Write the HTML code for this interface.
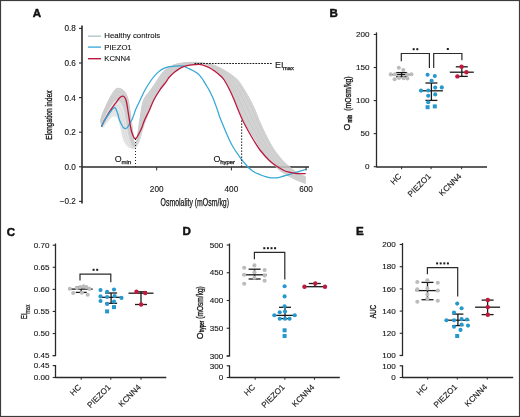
<!DOCTYPE html>
<html><head><meta charset="utf-8"><title>figure</title>
<style>html,body{margin:0;padding:0;background:#fff;width:520px;height:417px;overflow:hidden}</style>
</head><body>
<svg width="520" height="417" viewBox="0 0 520 417" style="display:block;filter:blur(0.3px)" font-family='"Liberation Sans", sans-serif'>
<rect x="0" y="0" width="520" height="417" fill="#ffffff"/>
<text x="32.80" y="17.30" font-size="11.60" text-anchor="start" font-weight="bold" fill="#111" stroke="#111" stroke-width="0.45">A</text>
<text x="329.40" y="17.30" font-size="11.60" text-anchor="start" font-weight="bold" fill="#111" stroke="#111" stroke-width="0.45">B</text>
<text x="6.80" y="235.60" font-size="11.60" text-anchor="start" font-weight="bold" fill="#111" stroke="#111" stroke-width="0.45">C</text>
<text x="182.60" y="235.10" font-size="11.60" text-anchor="start" font-weight="bold" fill="#111" stroke="#111" stroke-width="0.45">D</text>
<text x="356.00" y="234.50" font-size="11.60" text-anchor="start" font-weight="bold" fill="#111" stroke="#111" stroke-width="0.45">E</text>
<line x1="82.00" y1="167.00" x2="309.00" y2="167.00" stroke="#2a2a2a" stroke-width="1.50" />
<g opacity="0.85">
<path d="M100.40,121.00 C100.54,120.50 100.95,118.99 101.22,117.99 C101.49,116.98 101.71,115.96 102.04,114.97 C102.36,113.99 102.78,113.03 103.19,112.08 C103.59,111.12 104.06,110.18 104.49,109.24 C104.93,108.29 105.36,107.35 105.79,106.40 C106.23,105.45 106.66,104.50 107.09,103.56 C107.52,102.61 107.93,101.65 108.38,100.71 C108.84,99.78 109.34,98.87 109.84,97.95 C110.34,97.04 110.84,96.13 111.37,95.23 C111.90,94.33 112.42,93.44 113.00,92.57 C113.58,91.70 114.09,90.75 114.83,90.04 C115.56,89.33 116.26,88.43 117.40,88.30 C118.54,88.17 120.39,88.60 121.64,89.24 C122.89,89.88 124.00,91.02 124.89,92.15 C125.78,93.29 126.42,94.69 126.98,96.04 C127.55,97.39 127.90,98.84 128.25,100.27 C128.61,101.69 128.87,103.15 129.12,104.60 C129.37,106.06 129.54,107.52 129.75,108.98 C129.95,110.44 130.15,111.90 130.35,113.37 C130.55,114.83 130.74,116.29 130.93,117.75 C131.13,119.21 131.33,120.67 131.52,122.13 C131.70,123.60 131.87,125.06 132.05,126.53 C132.23,127.99 132.41,129.45 132.59,130.92 C132.77,132.38 132.95,133.84 133.14,135.31 C133.33,136.77 133.49,138.23 133.74,139.69 C133.98,141.14 134.19,143.40 134.61,144.02 C135.03,144.65 135.81,144.40 136.24,143.43 C136.68,142.47 136.94,139.97 137.23,138.23 C137.52,136.49 137.74,134.74 137.98,132.99 C138.21,131.25 138.40,129.49 138.64,127.74 C138.88,125.99 139.16,124.25 139.42,122.51 C139.69,120.76 139.95,119.02 140.21,117.27 C140.47,115.53 140.71,113.78 140.99,112.04 C141.28,110.29 141.56,108.55 141.91,106.82 C142.25,105.09 142.50,103.31 143.06,101.66 C143.61,100.01 144.30,98.38 145.22,96.90 C146.13,95.42 147.45,94.18 148.53,92.79 C149.62,91.41 150.71,90.03 151.74,88.60 C152.76,87.16 153.71,85.67 154.67,84.19 C155.64,82.71 156.56,81.21 157.53,79.73 C158.50,78.26 159.46,76.78 160.51,75.37 C161.56,73.95 162.58,72.47 163.82,71.23 C165.05,69.99 166.46,68.90 167.92,67.93 C169.38,66.97 170.96,66.15 172.57,65.45 C174.18,64.76 175.87,64.17 177.58,63.76 C179.28,63.35 181.05,63.20 182.80,62.98 C184.55,62.76 186.30,62.55 188.06,62.44 C189.82,62.32 191.55,62.26 193.35,62.27 C195.16,62.28 197.03,62.24 198.88,62.49 C200.73,62.74 202.67,63.15 204.46,63.79 C206.26,64.42 208.03,65.30 209.66,66.30 C211.29,67.29 212.80,68.49 214.25,69.75 C215.70,71.01 216.98,72.48 218.34,73.84 C219.71,75.21 221.14,76.52 222.44,77.94 C223.73,79.35 225.01,80.79 226.13,82.35 C227.25,83.91 228.18,85.62 229.14,87.29 C230.11,88.96 231.03,90.65 231.89,92.37 C232.75,94.10 233.53,95.87 234.31,97.63 C235.09,99.40 235.84,101.17 236.58,102.95 C237.32,104.74 238.00,106.54 238.73,108.33 C239.46,110.11 240.22,111.89 240.98,113.66 C241.73,115.44 242.44,117.24 243.26,118.98 C244.08,120.73 245.00,122.42 245.89,124.14 C246.78,125.85 247.64,127.58 248.60,129.25 C249.57,130.92 250.65,132.52 251.69,134.14 C252.73,135.77 253.82,137.36 254.85,139.00 C255.88,140.63 256.86,142.29 257.86,143.94 C258.86,145.59 259.81,147.27 260.84,148.90 C261.87,150.53 262.96,152.13 264.07,153.71 C265.17,155.28 266.28,156.88 267.49,158.37 C268.71,159.86 270.02,161.27 271.36,162.64 C272.71,164.01 274.16,165.29 275.59,166.59 C277.02,167.88 278.41,169.22 279.93,170.40 C281.45,171.57 283.07,172.63 284.70,173.66 C286.33,174.69 288.01,175.64 289.70,176.57 C291.40,177.49 293.10,178.40 294.85,179.21 C296.60,180.02 298.41,180.70 300.20,181.42 C301.99,182.13 304.70,183.15 305.60,183.50 L305.60,176.50 C304.76,176.15 302.17,175.23 300.54,174.43 C298.91,173.63 297.34,172.71 295.82,171.70 C294.31,170.70 292.88,169.56 291.46,168.42 C290.04,167.28 288.66,166.09 287.29,164.88 C285.93,163.68 284.54,162.48 283.27,161.18 C282.01,159.87 280.86,158.46 279.70,157.05 C278.55,155.65 277.42,154.21 276.34,152.74 C275.26,151.28 274.19,149.81 273.21,148.27 C272.24,146.73 271.40,145.11 270.51,143.52 C269.62,141.93 268.71,140.35 267.87,138.73 C267.02,137.12 266.23,135.48 265.42,133.84 C264.61,132.21 263.79,130.58 263.02,128.93 C262.24,127.28 261.51,125.61 260.77,123.94 C260.04,122.28 259.28,120.62 258.58,118.94 C257.89,117.25 257.25,115.54 256.59,113.84 C255.93,112.15 255.33,110.42 254.60,108.75 C253.86,107.08 252.99,105.48 252.17,103.85 C251.36,102.22 250.59,100.56 249.73,98.96 C248.87,97.35 247.93,95.79 247.02,94.21 C246.11,92.63 245.23,91.03 244.28,89.48 C243.33,87.92 242.34,86.38 241.32,84.88 C240.30,83.37 239.38,81.78 238.17,80.45 C236.95,79.11 235.46,78.00 234.05,76.85 C232.64,75.70 231.20,74.58 229.71,73.55 C228.21,72.52 226.65,71.57 225.07,70.65 C223.50,69.73 221.89,68.86 220.27,68.03 C218.65,67.21 217.02,66.35 215.34,65.68 C213.66,65.02 211.94,64.41 210.18,64.07 C208.41,63.72 206.54,63.66 204.73,63.62 C202.91,63.59 201.11,63.69 199.30,63.85 C197.49,64.02 195.68,64.37 193.87,64.61 C192.07,64.86 190.25,65.02 188.45,65.31 C186.65,65.61 184.81,65.86 183.07,66.39 C181.33,66.92 179.62,67.64 178.02,68.49 C176.41,69.35 174.85,70.36 173.44,71.51 C172.04,72.66 170.77,74.00 169.59,75.38 C168.40,76.76 167.36,78.28 166.35,79.79 C165.33,81.30 164.42,82.90 163.48,84.46 C162.54,86.02 161.64,87.62 160.69,89.18 C159.75,90.74 158.78,92.29 157.79,93.82 C156.80,95.35 155.71,96.83 154.75,98.38 C153.79,99.93 152.84,101.49 152.04,103.12 C151.23,104.75 150.57,106.46 149.91,108.16 C149.24,109.86 148.64,111.59 148.06,113.32 C147.48,115.05 146.98,116.81 146.42,118.55 C145.87,120.29 145.30,122.03 144.74,123.77 C144.19,125.50 143.61,127.24 143.08,128.98 C142.55,130.73 142.07,132.50 141.57,134.25 C141.07,136.01 140.64,137.79 140.07,139.52 C139.49,141.25 139.00,143.12 138.11,144.63 C137.22,146.13 135.97,147.95 134.73,148.57 C133.49,149.18 131.79,148.55 130.70,148.32 C129.61,148.09 128.94,147.71 128.19,147.19 C127.45,146.68 126.84,145.92 126.23,145.23 C125.61,144.53 125.03,143.81 124.53,143.04 C124.03,142.27 123.58,141.46 123.23,140.61 C122.87,139.77 122.66,138.85 122.40,137.96 C122.14,137.07 121.87,136.18 121.67,135.28 C121.46,134.38 121.33,133.46 121.16,132.55 C120.99,131.64 120.84,130.72 120.65,129.81 C120.46,128.91 120.24,128.01 120.03,127.11 C119.81,126.20 119.59,125.30 119.35,124.41 C119.11,123.51 118.86,122.62 118.58,121.74 C118.30,120.86 118.11,119.92 117.70,119.10 C117.29,118.29 116.81,117.30 116.11,116.87 C115.41,116.43 114.13,116.44 113.50,116.50 C112.87,116.56 112.72,116.97 112.33,117.20 C111.94,117.44 111.51,117.62 111.16,117.90 C110.81,118.19 110.54,118.56 110.23,118.89 C109.93,119.23 109.64,119.58 109.35,119.93 C109.05,120.27 108.75,120.61 108.46,120.96 C108.17,121.31 107.88,121.67 107.61,122.03 C107.33,122.39 107.06,122.75 106.79,123.12 C106.51,123.48 106.24,123.85 105.97,124.21 C105.70,124.57 105.43,124.94 105.15,125.30 C104.87,125.66 104.59,126.01 104.30,126.37 C104.02,126.73 103.74,127.08 103.45,127.43 C103.17,127.79 102.74,128.32 102.60,128.50 Z" fill="#e2e2e2" stroke="none"/>
<path d="M100.40,121.00 C100.54,120.50 100.95,118.99 101.22,117.99 C101.49,116.98 101.71,115.96 102.04,114.97 C102.36,113.99 102.78,113.03 103.19,112.08 C103.59,111.12 104.06,110.18 104.49,109.24 C104.93,108.29 105.36,107.35 105.79,106.40 C106.23,105.45 106.66,104.50 107.09,103.56 C107.52,102.61 107.93,101.65 108.38,100.71 C108.84,99.78 109.34,98.87 109.84,97.95 C110.34,97.04 110.84,96.13 111.37,95.23 C111.90,94.33 112.42,93.44 113.00,92.57 C113.58,91.70 114.09,90.75 114.83,90.04 C115.56,89.33 116.26,88.43 117.40,88.30 C118.54,88.17 120.39,88.60 121.64,89.24 C122.89,89.88 124.00,91.02 124.89,92.15 C125.78,93.29 126.42,94.69 126.98,96.04 C127.55,97.39 127.90,98.84 128.25,100.27 C128.61,101.69 128.87,103.15 129.12,104.60 C129.37,106.06 129.54,107.52 129.75,108.98 C129.95,110.44 130.15,111.90 130.35,113.37 C130.55,114.83 130.74,116.29 130.93,117.75 C131.13,119.21 131.33,120.67 131.52,122.13 C131.70,123.60 131.87,125.06 132.05,126.53 C132.23,127.99 132.41,129.45 132.59,130.92 C132.77,132.38 132.95,133.84 133.14,135.31 C133.33,136.77 133.49,138.23 133.74,139.69 C133.98,141.14 134.19,143.40 134.61,144.02 C135.03,144.65 135.81,144.40 136.24,143.43 C136.68,142.47 136.94,139.97 137.23,138.23 C137.52,136.49 137.74,134.74 137.98,132.99 C138.21,131.25 138.40,129.49 138.64,127.74 C138.88,125.99 139.16,124.25 139.42,122.51 C139.69,120.76 139.95,119.02 140.21,117.27 C140.47,115.53 140.71,113.78 140.99,112.04 C141.28,110.29 141.56,108.55 141.91,106.82 C142.25,105.09 142.50,103.31 143.06,101.66 C143.61,100.01 144.30,98.38 145.22,96.90 C146.13,95.42 147.45,94.18 148.53,92.79 C149.62,91.41 150.71,90.03 151.74,88.60 C152.76,87.16 153.71,85.67 154.67,84.19 C155.64,82.71 156.56,81.21 157.53,79.73 C158.50,78.26 159.46,76.78 160.51,75.37 C161.56,73.95 162.58,72.47 163.82,71.23 C165.05,69.99 166.46,68.90 167.92,67.93 C169.38,66.97 170.96,66.15 172.57,65.45 C174.18,64.76 175.87,64.17 177.58,63.76 C179.28,63.35 181.05,63.20 182.80,62.98 C184.55,62.76 186.30,62.55 188.06,62.44 C189.82,62.32 191.55,62.26 193.35,62.27 C195.16,62.28 197.03,62.24 198.88,62.49 C200.73,62.74 202.67,63.15 204.46,63.79 C206.26,64.42 208.03,65.30 209.66,66.30 C211.29,67.29 212.80,68.49 214.25,69.75 C215.70,71.01 216.98,72.48 218.34,73.84 C219.71,75.21 221.14,76.52 222.44,77.94 C223.73,79.35 225.01,80.79 226.13,82.35 C227.25,83.91 228.18,85.62 229.14,87.29 C230.11,88.96 231.03,90.65 231.89,92.37 C232.75,94.10 233.53,95.87 234.31,97.63 C235.09,99.40 235.84,101.17 236.58,102.95 C237.32,104.74 238.00,106.54 238.73,108.33 C239.46,110.11 240.22,111.89 240.98,113.66 C241.73,115.44 242.44,117.24 243.26,118.98 C244.08,120.73 245.00,122.42 245.89,124.14 C246.78,125.85 247.64,127.58 248.60,129.25 C249.57,130.92 250.65,132.52 251.69,134.14 C252.73,135.77 253.82,137.36 254.85,139.00 C255.88,140.63 256.86,142.29 257.86,143.94 C258.86,145.59 259.81,147.27 260.84,148.90 C261.87,150.53 262.96,152.13 264.07,153.71 C265.17,155.28 266.28,156.88 267.49,158.37 C268.71,159.86 270.02,161.27 271.36,162.64 C272.71,164.01 274.16,165.29 275.59,166.59 C277.02,167.88 278.41,169.22 279.93,170.40 C281.45,171.57 283.07,172.63 284.70,173.66 C286.33,174.69 288.01,175.64 289.70,176.57 C291.40,177.49 293.10,178.40 294.85,179.21 C296.60,180.02 298.41,180.70 300.20,181.42 C301.99,182.13 304.70,183.15 305.60,183.50 L305.60,176.50 C304.76,176.15 302.17,175.23 300.54,174.43 C298.91,173.63 297.34,172.71 295.82,171.70 C294.31,170.70 292.88,169.56 291.46,168.42 C290.04,167.28 288.66,166.09 287.29,164.88 C285.93,163.68 284.54,162.48 283.27,161.18 C282.01,159.87 280.86,158.46 279.70,157.05 C278.55,155.65 277.42,154.21 276.34,152.74 C275.26,151.28 274.19,149.81 273.21,148.27 C272.24,146.73 271.40,145.11 270.51,143.52 C269.62,141.93 268.71,140.35 267.87,138.73 C267.02,137.12 266.23,135.48 265.42,133.84 C264.61,132.21 263.79,130.58 263.02,128.93 C262.24,127.28 261.51,125.61 260.77,123.94 C260.04,122.28 259.28,120.62 258.58,118.94 C257.89,117.25 257.25,115.54 256.59,113.84 C255.93,112.15 255.33,110.42 254.60,108.75 C253.86,107.08 252.99,105.48 252.17,103.85 C251.36,102.22 250.59,100.56 249.73,98.96 C248.87,97.35 247.93,95.79 247.02,94.21 C246.11,92.63 245.23,91.03 244.28,89.48 C243.33,87.92 242.34,86.38 241.32,84.88 C240.30,83.37 239.38,81.78 238.17,80.45 C236.95,79.11 235.46,78.00 234.05,76.85 C232.64,75.70 231.20,74.58 229.71,73.55 C228.21,72.52 226.65,71.57 225.07,70.65 C223.50,69.73 221.89,68.86 220.27,68.03 C218.65,67.21 217.02,66.35 215.34,65.68 C213.66,65.02 211.94,64.41 210.18,64.07 C208.41,63.72 206.54,63.66 204.73,63.62 C202.91,63.59 201.11,63.69 199.30,63.85 C197.49,64.02 195.68,64.37 193.87,64.61 C192.07,64.86 190.25,65.02 188.45,65.31 C186.65,65.61 184.81,65.86 183.07,66.39 C181.33,66.92 179.62,67.64 178.02,68.49 C176.41,69.35 174.85,70.36 173.44,71.51 C172.04,72.66 170.77,74.00 169.59,75.38 C168.40,76.76 167.36,78.28 166.35,79.79 C165.33,81.30 164.42,82.90 163.48,84.46 C162.54,86.02 161.64,87.62 160.69,89.18 C159.75,90.74 158.78,92.29 157.79,93.82 C156.80,95.35 155.71,96.83 154.75,98.38 C153.79,99.93 152.84,101.49 152.04,103.12 C151.23,104.75 150.57,106.46 149.91,108.16 C149.24,109.86 148.66,111.61 148.06,113.32 C147.47,115.04 146.93,116.77 146.33,118.44 C145.74,120.12 145.09,121.75 144.47,123.37 C143.85,125.00 143.20,126.58 142.62,128.17 C142.04,129.76 141.50,131.35 140.97,132.92 C140.45,134.50 139.99,136.08 139.46,137.63 C138.93,139.18 138.45,140.79 137.78,142.22 C137.11,143.66 136.26,145.59 135.42,146.23 C134.58,146.88 133.41,146.63 132.73,146.08 C132.05,145.54 131.73,144.06 131.32,142.96 C130.90,141.86 130.59,140.63 130.23,139.47 C129.88,138.31 129.52,137.18 129.20,136.01 C128.89,134.84 128.60,133.65 128.35,132.44 C128.09,131.24 127.91,130.00 127.69,128.78 C127.47,127.56 127.24,126.34 127.04,125.11 C126.84,123.89 126.67,122.65 126.49,121.42 C126.30,120.19 126.13,118.96 125.93,117.73 C125.73,116.50 125.54,115.28 125.30,114.06 C125.07,112.83 124.82,111.61 124.51,110.41 C124.21,109.20 123.90,107.99 123.45,106.83 C123.01,105.68 122.56,104.47 121.87,103.47 C121.18,102.47 120.34,101.40 119.32,100.84 C118.30,100.29 116.69,100.04 115.76,100.14 C114.84,100.24 114.37,100.94 113.78,101.45 C113.19,101.96 112.71,102.59 112.23,103.21 C111.75,103.83 111.33,104.51 110.89,105.17 C110.46,105.83 110.05,106.51 109.63,107.18 C109.22,107.86 108.80,108.53 108.42,109.22 C108.03,109.91 107.67,110.61 107.31,111.31 C106.94,112.01 106.58,112.72 106.21,113.42 C105.84,114.12 105.48,114.82 105.11,115.53 C104.75,116.23 104.36,116.92 104.01,117.63 C103.66,118.34 103.30,119.04 102.99,119.76 C102.68,120.48 102.43,121.22 102.16,121.95 C101.88,122.69 101.46,123.78 101.32,124.15 Z" fill="#cfcfcf" stroke="none"/>
<path d="M100.40,121.00 C100.54,120.50 100.95,118.99 101.22,117.99 C101.49,116.98 101.71,115.96 102.04,114.97 C102.36,113.99 102.78,113.03 103.19,112.08 C103.59,111.12 104.06,110.18 104.49,109.24 C104.93,108.29 105.36,107.35 105.79,106.40 C106.23,105.45 106.66,104.50 107.09,103.56 C107.52,102.61 107.93,101.65 108.38,100.71 C108.84,99.78 109.34,98.87 109.84,97.95 C110.34,97.04 110.84,96.13 111.37,95.23 C111.90,94.33 112.42,93.44 113.00,92.57 C113.58,91.70 114.09,90.75 114.83,90.04 C115.56,89.33 116.26,88.43 117.40,88.30 C118.54,88.17 120.39,88.60 121.64,89.24 C122.89,89.88 124.00,91.02 124.89,92.15 C125.78,93.29 126.42,94.69 126.98,96.04 C127.55,97.39 127.90,98.84 128.25,100.27 C128.61,101.69 128.87,103.15 129.12,104.60 C129.37,106.06 129.54,107.52 129.75,108.98 C129.95,110.44 130.15,111.90 130.35,113.37 C130.55,114.83 130.74,116.29 130.93,117.75 C131.13,119.21 131.33,120.67 131.52,122.13 C131.70,123.60 131.87,125.06 132.05,126.53 C132.23,127.99 132.41,129.45 132.59,130.92 C132.77,132.38 132.95,133.84 133.14,135.31 C133.33,136.77 133.49,138.23 133.74,139.69 C133.98,141.14 134.19,143.40 134.61,144.02 C135.03,144.65 135.81,144.40 136.24,143.43 C136.68,142.47 136.94,139.97 137.23,138.23 C137.52,136.49 137.74,134.74 137.98,132.99 C138.21,131.25 138.40,129.49 138.64,127.74 C138.88,125.99 139.16,124.25 139.42,122.51 C139.69,120.76 139.95,119.02 140.21,117.27 C140.47,115.53 140.71,113.78 140.99,112.04 C141.28,110.29 141.56,108.55 141.91,106.82 C142.25,105.09 142.50,103.31 143.06,101.66 C143.61,100.01 144.30,98.38 145.22,96.90 C146.13,95.42 147.45,94.18 148.53,92.79 C149.62,91.41 150.71,90.03 151.74,88.60 C152.76,87.16 153.71,85.67 154.67,84.19 C155.64,82.71 156.56,81.21 157.53,79.73 C158.50,78.26 159.46,76.78 160.51,75.37 C161.56,73.95 162.58,72.47 163.82,71.23 C165.05,69.99 166.46,68.90 167.92,67.93 C169.38,66.97 170.96,66.15 172.57,65.45 C174.18,64.76 175.87,64.17 177.58,63.76 C179.28,63.35 181.05,63.20 182.80,62.98 C184.55,62.76 186.30,62.55 188.06,62.44 C189.82,62.32 191.55,62.26 193.35,62.27 C195.16,62.28 197.03,62.24 198.88,62.49 C200.73,62.74 202.67,63.15 204.46,63.79 C206.26,64.42 208.03,65.30 209.66,66.30 C211.29,67.29 212.80,68.49 214.25,69.75 C215.70,71.01 216.98,72.48 218.34,73.84 C219.71,75.21 221.14,76.52 222.44,77.94 C223.73,79.35 225.01,80.79 226.13,82.35 C227.25,83.91 228.18,85.62 229.14,87.29 C230.11,88.96 231.03,90.65 231.89,92.37 C232.75,94.10 233.53,95.87 234.31,97.63 C235.09,99.40 235.84,101.17 236.58,102.95 C237.32,104.74 238.00,106.54 238.73,108.33 C239.46,110.11 240.22,111.89 240.98,113.66 C241.73,115.44 242.44,117.24 243.26,118.98 C244.08,120.73 245.00,122.42 245.89,124.14 C246.78,125.85 247.64,127.58 248.60,129.25 C249.57,130.92 250.65,132.52 251.69,134.14 C252.73,135.77 253.82,137.36 254.85,139.00 C255.88,140.63 256.86,142.29 257.86,143.94 C258.86,145.59 259.81,147.27 260.84,148.90 C261.87,150.53 262.96,152.13 264.07,153.71 C265.17,155.28 266.28,156.88 267.49,158.37 C268.71,159.86 270.02,161.27 271.36,162.64 C272.71,164.01 274.16,165.29 275.59,166.59 C277.02,167.88 278.41,169.22 279.93,170.40 C281.45,171.57 283.07,172.63 284.70,173.66 C286.33,174.69 288.01,175.64 289.70,176.57 C291.40,177.49 293.10,178.40 294.85,179.21 C296.60,180.02 298.41,180.70 300.20,181.42 C301.99,182.13 304.70,183.15 305.60,183.50" fill="none" stroke="#c0c0c0" stroke-width="1.0"/>
<path d="M100.53,121.45 C100.67,120.97 101.08,119.52 101.35,118.55 C101.63,117.59 101.85,116.60 102.17,115.65 C102.50,114.71 102.90,113.79 103.30,112.87 C103.70,111.95 104.16,111.05 104.58,110.14 C105.01,109.23 105.43,108.31 105.85,107.40 C106.28,106.49 106.70,105.58 107.12,104.66 C107.54,103.75 107.94,102.83 108.39,101.93 C108.84,101.03 109.32,100.15 109.81,99.27 C110.30,98.39 110.79,97.51 111.30,96.65 C111.82,95.79 112.33,94.92 112.89,94.09 C113.45,93.26 113.97,92.35 114.68,91.67 C115.39,90.98 116.06,90.12 117.17,89.99 C118.27,89.86 120.10,90.27 121.31,90.90 C122.53,91.53 123.59,92.66 124.46,93.77 C125.32,94.88 125.94,96.26 126.48,97.58 C127.02,98.90 127.37,100.32 127.72,101.72 C128.07,103.11 128.33,104.54 128.58,105.95 C128.82,107.37 129.00,108.81 129.20,110.23 C129.41,111.66 129.60,113.09 129.80,114.52 C129.99,115.94 130.18,117.37 130.38,118.80 C130.57,120.23 130.78,121.66 130.97,123.08 C131.16,124.51 131.33,125.94 131.52,127.37 C131.71,128.80 131.91,130.22 132.11,131.64 C132.31,133.07 132.51,134.48 132.72,135.90 C132.94,137.32 133.12,138.75 133.39,140.15 C133.66,141.56 133.89,143.70 134.34,144.32 C134.80,144.93 135.63,144.75 136.12,143.83 C136.62,142.91 136.96,140.50 137.31,138.80 C137.65,137.11 137.91,135.38 138.19,133.66 C138.47,131.94 138.69,130.21 138.97,128.48 C139.25,126.76 139.57,125.04 139.88,123.32 C140.19,121.59 140.51,119.87 140.82,118.14 C141.13,116.42 141.43,114.68 141.76,112.95 C142.09,111.22 142.41,109.48 142.79,107.75 C143.17,106.02 143.47,104.25 144.03,102.59 C144.60,100.93 145.29,99.29 146.19,97.79 C147.09,96.29 148.35,95.00 149.42,93.59 C150.49,92.18 151.58,90.79 152.60,89.34 C153.62,87.89 154.57,86.39 155.53,84.90 C156.50,83.41 157.41,81.89 158.38,80.41 C159.35,78.93 160.30,77.43 161.34,76.00 C162.39,74.57 163.41,73.08 164.64,71.82 C165.87,70.57 167.26,69.43 168.71,68.44 C170.16,67.45 171.74,66.61 173.35,65.89 C174.96,65.17 176.65,64.56 178.36,64.13 C180.07,63.70 181.85,63.55 183.60,63.32 C185.36,63.08 187.13,62.88 188.89,62.75 C190.66,62.61 192.40,62.51 194.20,62.50 C196.01,62.48 197.87,62.43 199.72,62.65 C201.56,62.87 203.49,63.23 205.28,63.83 C207.07,64.42 208.83,65.26 210.47,66.21 C212.11,67.15 213.64,68.31 215.11,69.51 C216.58,70.70 217.91,72.09 219.31,73.39 C220.70,74.69 222.15,75.95 223.48,77.31 C224.80,78.67 226.10,80.06 227.26,81.56 C228.42,83.06 229.44,84.69 230.43,86.31 C231.43,87.93 232.36,89.61 233.24,91.30 C234.12,92.99 234.93,94.73 235.73,96.47 C236.54,98.20 237.31,99.95 238.07,101.71 C238.83,103.46 239.55,105.23 240.30,106.99 C241.05,108.75 241.81,110.51 242.58,112.26 C243.34,114.02 244.07,115.79 244.88,117.52 C245.69,119.25 246.56,120.96 247.42,122.67 C248.28,124.38 249.10,126.11 250.03,127.78 C250.96,129.45 251.99,131.06 252.99,132.69 C253.99,134.32 255.02,135.92 256.01,137.56 C257.01,139.19 257.97,140.85 258.94,142.50 C259.91,144.14 260.84,145.82 261.84,147.45 C262.85,149.07 263.91,150.67 264.99,152.25 C266.06,153.83 267.13,155.43 268.31,156.92 C269.49,158.42 270.76,159.84 272.08,161.22 C273.39,162.61 274.79,163.92 276.18,165.23 C277.56,166.54 278.92,167.88 280.41,169.08 C281.89,170.28 283.48,171.35 285.07,172.41 C286.66,173.46 288.30,174.45 289.95,175.40 C291.61,176.36 293.28,177.30 294.99,178.14 C296.71,178.97 298.48,179.69 300.25,180.42 C302.02,181.15 304.71,182.15 305.60,182.50" fill="none" stroke="#c9c9c9" stroke-width="1.0"/>
<path d="M100.66,121.90 C100.80,121.44 101.21,120.05 101.49,119.12 C101.76,118.19 101.99,117.25 102.31,116.34 C102.63,115.43 103.03,114.55 103.42,113.66 C103.81,112.78 104.25,111.91 104.67,111.04 C105.08,110.16 105.50,109.28 105.91,108.41 C106.33,107.53 106.74,106.65 107.15,105.77 C107.56,104.90 107.95,104.01 108.39,103.14 C108.83,102.28 109.31,101.44 109.78,100.59 C110.25,99.74 110.73,98.90 111.23,98.07 C111.73,97.24 112.23,96.41 112.78,95.61 C113.33,94.81 113.84,93.95 114.53,93.30 C115.22,92.64 115.86,91.81 116.93,91.68 C118.01,91.56 119.80,91.94 120.98,92.55 C122.16,93.17 123.19,94.29 124.03,95.39 C124.86,96.48 125.45,97.83 125.98,99.12 C126.50,100.42 126.84,101.80 127.19,103.16 C127.53,104.53 127.78,105.92 128.03,107.30 C128.27,108.69 128.45,110.09 128.66,111.48 C128.86,112.88 129.05,114.27 129.25,115.67 C129.44,117.06 129.63,118.46 129.82,119.85 C130.02,121.25 130.23,122.64 130.42,124.03 C130.62,125.43 130.79,126.83 130.99,128.22 C131.19,129.61 131.40,130.99 131.62,132.37 C131.84,133.75 132.07,135.12 132.31,136.50 C132.55,137.87 132.75,139.27 133.05,140.62 C133.34,141.97 133.58,144.01 134.07,144.61 C134.57,145.21 135.45,145.10 136.01,144.23 C136.56,143.36 136.99,141.03 137.39,139.37 C137.78,137.72 138.08,136.01 138.40,134.32 C138.72,132.63 138.98,130.92 139.31,129.22 C139.63,127.52 139.98,125.83 140.34,124.12 C140.69,122.42 141.06,120.72 141.43,119.01 C141.79,117.30 142.15,115.59 142.52,113.87 C142.89,112.14 143.25,110.40 143.67,108.68 C144.08,106.95 144.43,105.18 145.01,103.52 C145.60,101.85 146.28,100.20 147.17,98.68 C148.05,97.16 149.26,95.82 150.31,94.39 C151.36,92.96 152.45,91.55 153.46,90.09 C154.48,88.63 155.43,87.12 156.39,85.62 C157.35,84.12 158.27,82.58 159.23,81.08 C160.19,79.59 161.14,78.07 162.18,76.63 C163.21,75.19 164.24,73.70 165.46,72.42 C166.68,71.14 168.05,69.97 169.50,68.95 C170.94,67.94 172.52,67.06 174.13,66.32 C175.74,65.58 177.43,64.95 179.15,64.51 C180.86,64.06 182.65,63.89 184.41,63.65 C186.17,63.41 187.95,63.21 189.72,63.06 C191.50,62.90 193.25,62.76 195.05,62.72 C196.86,62.68 198.71,62.62 200.55,62.81 C202.39,63.00 204.31,63.31 206.10,63.87 C207.88,64.42 209.64,65.22 211.28,66.12 C212.93,67.02 214.47,68.13 215.97,69.26 C217.47,70.39 218.84,71.69 220.27,72.93 C221.69,74.17 223.16,75.38 224.51,76.68 C225.87,77.99 227.19,79.34 228.39,80.78 C229.59,82.22 230.69,83.76 231.72,85.33 C232.75,86.91 233.68,88.57 234.59,90.23 C235.49,91.89 236.33,93.60 237.16,95.30 C237.99,97.01 238.78,98.73 239.56,100.46 C240.35,102.18 241.11,103.92 241.87,105.65 C242.64,107.39 243.40,109.13 244.18,110.86 C244.95,112.59 245.71,114.34 246.50,116.06 C247.30,117.78 248.12,119.49 248.95,121.20 C249.77,122.90 250.56,124.63 251.45,126.30 C252.34,127.98 253.33,129.59 254.29,131.23 C255.24,132.87 256.23,134.48 257.18,136.12 C258.14,137.76 259.08,139.41 260.02,141.05 C260.97,142.70 261.87,144.37 262.85,146.00 C263.83,147.62 264.86,149.21 265.91,150.80 C266.95,152.38 267.98,153.98 269.13,155.48 C270.27,156.98 271.51,158.41 272.79,159.81 C274.06,161.21 275.41,162.54 276.76,163.86 C278.11,165.19 279.44,166.55 280.88,167.76 C282.33,168.98 283.89,170.07 285.44,171.15 C286.99,172.23 288.59,173.25 290.21,174.24 C291.82,175.22 293.45,176.20 295.13,177.07 C296.81,177.93 298.55,178.68 300.30,179.42 C302.04,180.16 304.72,181.15 305.60,181.50" fill="none" stroke="#c0c0c0" stroke-width="1.0"/>
<path d="M100.80,122.35 C100.93,121.91 101.35,120.57 101.62,119.69 C101.90,118.80 102.12,117.89 102.44,117.02 C102.76,116.15 103.15,115.30 103.54,114.46 C103.92,113.61 104.35,112.77 104.76,111.93 C105.16,111.09 105.57,110.25 105.97,109.41 C106.38,108.57 106.78,107.72 107.18,106.88 C107.59,106.04 107.97,105.19 108.40,104.36 C108.83,103.53 109.29,102.72 109.75,101.91 C110.21,101.10 110.68,100.29 111.17,99.49 C111.65,98.69 112.13,97.89 112.67,97.13 C113.20,96.37 113.71,95.55 114.38,94.93 C115.05,94.30 115.65,93.50 116.70,93.38 C117.74,93.26 119.50,93.61 120.65,94.21 C121.80,94.82 122.79,95.93 123.59,97.00 C124.40,98.08 124.96,99.40 125.47,100.66 C125.98,101.93 126.32,103.28 126.65,104.61 C126.99,105.94 127.24,107.30 127.48,108.65 C127.73,110.01 127.91,111.37 128.11,112.73 C128.31,114.09 128.50,115.46 128.69,116.82 C128.89,118.18 129.07,119.54 129.27,120.91 C129.46,122.27 129.68,123.62 129.88,124.98 C130.08,126.34 130.25,127.71 130.46,129.06 C130.67,130.41 130.90,131.76 131.14,133.10 C131.38,134.44 131.63,135.76 131.89,137.09 C132.15,138.42 132.38,139.79 132.70,141.09 C133.02,142.39 133.27,144.32 133.81,144.91 C134.34,145.50 135.28,145.46 135.89,144.63 C136.50,143.80 137.01,141.55 137.46,139.94 C137.92,138.33 138.25,136.64 138.61,134.98 C138.97,133.32 139.28,131.64 139.64,129.96 C140.00,128.29 140.39,126.61 140.79,124.93 C141.19,123.26 141.62,121.58 142.04,119.89 C142.45,118.19 142.86,116.49 143.28,114.78 C143.70,113.07 144.09,111.33 144.55,109.61 C145.00,107.88 145.39,106.12 145.99,104.45 C146.59,102.77 147.27,101.11 148.14,99.57 C149.01,98.02 150.17,96.64 151.20,95.19 C152.23,93.73 153.32,92.31 154.33,90.83 C155.34,89.36 156.29,87.84 157.25,86.33 C158.21,84.82 159.12,83.27 160.08,81.76 C161.04,80.25 161.98,78.72 163.01,77.26 C164.04,75.80 165.08,74.31 166.29,73.01 C167.50,71.71 168.85,70.51 170.29,69.46 C171.72,68.42 173.30,67.52 174.91,66.76 C176.51,65.99 178.21,65.35 179.93,64.88 C181.65,64.42 183.45,64.23 185.22,63.98 C186.99,63.73 188.77,63.54 190.55,63.37 C192.33,63.20 194.10,63.01 195.90,62.95 C197.71,62.88 199.55,62.81 201.39,62.97 C203.22,63.13 205.13,63.40 206.91,63.91 C208.70,64.42 210.44,65.18 212.09,66.03 C213.75,66.89 215.31,67.94 216.83,69.01 C218.35,70.09 219.77,71.30 221.23,72.47 C222.68,73.65 224.17,74.80 225.55,76.06 C226.94,77.31 228.28,78.61 229.52,79.99 C230.76,81.37 231.94,82.83 233.01,84.36 C234.08,85.88 235.00,87.53 235.93,89.16 C236.86,90.79 237.73,92.46 238.58,94.14 C239.44,95.81 240.24,97.51 241.05,99.21 C241.86,100.90 242.66,102.60 243.44,104.31 C244.23,106.02 245.00,107.74 245.78,109.46 C246.55,111.17 247.34,112.89 248.12,114.60 C248.90,116.31 249.68,118.02 250.48,119.72 C251.27,121.43 252.03,123.16 252.88,124.83 C253.73,126.50 254.67,128.13 255.59,129.77 C256.50,131.41 257.43,133.04 258.35,134.68 C259.27,136.32 260.18,137.97 261.10,139.61 C262.02,141.25 262.90,142.92 263.85,144.54 C264.81,146.17 265.81,147.76 266.83,149.34 C267.84,150.92 268.83,152.53 269.95,154.04 C271.06,155.55 272.26,156.99 273.50,158.40 C274.73,159.81 276.04,161.16 277.35,162.50 C278.66,163.84 279.95,165.21 281.36,166.44 C282.77,167.68 284.29,168.79 285.81,169.90 C287.33,171.00 288.88,172.06 290.46,173.08 C292.03,174.09 293.62,175.10 295.27,175.99 C296.92,176.88 298.62,177.67 300.34,178.42 C302.07,179.17 304.72,180.15 305.60,180.50" fill="none" stroke="#c9c9c9" stroke-width="1.0"/>
<path d="M100.93,122.80 C101.07,122.38 101.48,121.10 101.75,120.25 C102.03,119.40 102.26,118.54 102.58,117.71 C102.90,116.87 103.28,116.06 103.66,115.25 C104.03,114.44 104.45,113.64 104.85,112.83 C105.24,112.03 105.64,111.22 106.03,110.41 C106.43,109.60 106.82,108.80 107.21,107.99 C107.61,107.18 107.98,106.37 108.40,105.57 C108.82,104.78 109.27,104.00 109.72,103.23 C110.17,102.45 110.62,101.67 111.10,100.91 C111.57,100.15 112.04,99.38 112.56,98.65 C113.08,97.92 113.58,97.15 114.23,96.56 C114.88,95.96 115.45,95.18 116.46,95.07 C117.48,94.95 119.20,95.28 120.31,95.87 C121.43,96.46 122.39,97.56 123.16,98.62 C123.94,99.68 124.47,100.97 124.97,102.21 C125.46,103.45 125.79,104.76 126.12,106.06 C126.45,107.36 126.70,108.68 126.94,110.00 C127.18,111.32 127.36,112.65 127.56,113.98 C127.77,115.31 127.95,116.64 128.14,117.97 C128.33,119.30 128.51,120.63 128.71,121.96 C128.91,123.28 129.13,124.61 129.33,125.93 C129.53,127.26 129.71,128.59 129.93,129.91 C130.16,131.22 130.40,132.53 130.65,133.83 C130.91,135.12 131.20,136.40 131.48,137.69 C131.76,138.97 132.01,140.30 132.35,141.56 C132.70,142.81 132.97,144.62 133.54,145.20 C134.11,145.78 135.10,145.81 135.77,145.03 C136.44,144.25 137.03,142.08 137.54,140.51 C138.05,138.95 138.42,137.28 138.82,135.64 C139.23,134.01 139.57,132.35 139.97,130.70 C140.38,129.05 140.80,127.40 141.25,125.74 C141.69,124.09 142.18,122.43 142.64,120.76 C143.11,119.08 143.58,117.40 144.05,115.70 C144.51,113.99 144.94,112.26 145.42,110.54 C145.91,108.82 146.36,107.06 146.97,105.38 C147.59,103.69 148.26,102.02 149.11,100.45 C149.97,98.89 151.07,97.46 152.08,95.98 C153.10,94.51 154.19,93.07 155.19,91.58 C156.20,90.09 157.16,88.56 158.11,87.04 C159.07,85.52 159.98,83.96 160.93,82.43 C161.89,80.91 162.81,79.37 163.84,77.89 C164.87,76.42 165.91,74.92 167.11,73.60 C168.32,72.28 169.65,71.04 171.08,69.98 C172.50,68.91 174.08,67.98 175.68,67.19 C177.29,66.40 178.99,65.74 180.72,65.26 C182.44,64.78 184.25,64.58 186.03,64.31 C187.80,64.05 189.60,63.87 191.38,63.68 C193.17,63.49 194.94,63.26 196.75,63.17 C198.56,63.08 200.39,63.01 202.22,63.14 C204.05,63.27 205.95,63.48 207.73,63.95 C209.51,64.41 211.24,65.14 212.91,65.95 C214.57,66.75 216.14,67.76 217.69,68.77 C219.24,69.78 220.71,70.91 222.19,72.02 C223.67,73.13 225.18,74.23 226.59,75.43 C228.00,76.63 229.37,77.88 230.65,79.21 C231.94,80.53 233.20,81.90 234.30,83.38 C235.40,84.86 236.33,86.49 237.28,88.09 C238.23,89.69 239.13,91.33 240.01,92.97 C240.88,94.62 241.71,96.29 242.54,97.96 C243.38,99.63 244.21,101.29 245.02,102.97 C245.82,104.66 246.59,106.36 247.38,108.06 C248.16,109.75 248.97,111.44 249.74,113.14 C250.51,114.84 251.24,116.55 252.01,118.25 C252.77,119.96 253.49,121.68 254.31,123.36 C255.12,125.03 256.01,126.67 256.88,128.31 C257.75,129.96 258.63,131.60 259.52,133.24 C260.40,134.89 261.29,136.53 262.18,138.17 C263.07,139.81 263.93,141.47 264.86,143.09 C265.78,144.71 266.76,146.30 267.75,147.89 C268.73,149.47 269.69,151.08 270.76,152.60 C271.84,154.11 273.01,155.56 274.21,156.98 C275.40,158.41 276.67,159.78 277.94,161.14 C279.21,162.50 280.47,163.88 281.84,165.13 C283.21,166.38 284.70,167.51 286.18,168.65 C287.66,169.78 289.17,170.87 290.71,171.91 C292.24,172.96 293.79,174.00 295.41,174.92 C297.02,175.84 298.69,176.66 300.39,177.42 C302.09,178.19 304.73,179.15 305.60,179.50" fill="none" stroke="#c0c0c0" stroke-width="1.0"/>
<path d="M101.06,123.25 C101.20,122.85 101.61,121.63 101.89,120.82 C102.16,120.01 102.40,119.19 102.72,118.39 C103.03,117.59 103.41,116.82 103.77,116.04 C104.14,115.27 104.55,114.50 104.93,113.73 C105.32,112.96 105.71,112.19 106.09,111.41 C106.48,110.64 106.86,109.87 107.24,109.10 C107.63,108.33 108.00,107.55 108.41,106.79 C108.81,106.03 109.25,105.29 109.69,104.55 C110.13,103.80 110.57,103.06 111.03,102.33 C111.49,101.60 111.94,100.86 112.45,100.17 C112.96,99.48 113.45,98.76 114.08,98.19 C114.71,97.62 115.25,96.87 116.23,96.76 C117.21,96.65 118.90,96.95 119.98,97.53 C121.07,98.11 121.98,99.20 122.73,100.24 C123.48,101.27 123.99,102.54 124.46,103.75 C124.94,104.96 125.26,106.24 125.58,107.51 C125.90,108.78 126.15,110.07 126.39,111.35 C126.63,112.64 126.82,113.94 127.02,115.23 C127.22,116.53 127.40,117.82 127.59,119.12 C127.78,120.42 127.95,121.72 128.15,123.01 C128.35,124.30 128.57,125.59 128.78,126.88 C128.99,128.17 129.17,129.47 129.40,130.75 C129.64,132.03 129.89,133.30 130.17,134.55 C130.45,135.81 130.76,137.04 131.06,138.28 C131.37,139.53 131.64,140.82 132.01,142.02 C132.38,143.23 132.66,144.93 133.27,145.50 C133.88,146.06 134.93,146.17 135.65,145.43 C136.38,144.70 137.06,142.60 137.62,141.08 C138.19,139.56 138.59,137.91 139.04,136.30 C139.48,134.70 139.86,133.07 140.31,131.44 C140.75,129.82 141.21,128.19 141.71,126.55 C142.20,124.92 142.74,123.29 143.25,121.63 C143.77,119.97 144.30,118.31 144.81,116.61 C145.32,114.92 145.78,113.18 146.30,111.46 C146.83,109.75 147.32,107.99 147.95,106.30 C148.58,104.62 149.25,102.93 150.09,101.34 C150.93,99.76 151.98,98.28 152.97,96.78 C153.97,95.28 155.06,93.83 156.06,92.33 C157.06,90.82 158.02,89.29 158.97,87.75 C159.93,86.22 160.83,84.65 161.78,83.11 C162.73,81.57 163.65,80.01 164.68,78.53 C165.70,77.04 166.74,75.54 167.94,74.20 C169.14,72.86 170.44,71.58 171.86,70.49 C173.29,69.39 174.86,68.43 176.46,67.62 C178.07,66.82 179.77,66.13 181.50,65.63 C183.23,65.14 185.05,64.92 186.83,64.65 C188.62,64.37 190.42,64.20 192.21,63.99 C194.01,63.78 195.79,63.51 197.60,63.40 C199.41,63.28 201.23,63.20 203.06,63.30 C204.88,63.40 206.77,63.56 208.54,63.99 C210.32,64.41 212.05,65.10 213.72,65.86 C215.38,66.62 216.98,67.57 218.55,68.52 C220.12,69.47 221.64,70.51 223.15,71.56 C224.66,72.61 226.19,73.66 227.63,74.80 C229.07,75.95 230.46,77.15 231.78,78.42 C233.11,79.69 234.45,80.97 235.59,82.40 C236.73,83.83 237.65,85.45 238.63,87.02 C239.60,88.59 240.53,90.19 241.43,91.81 C242.33,93.42 243.18,95.07 244.04,96.71 C244.90,98.35 245.76,99.98 246.59,101.64 C247.41,103.29 248.18,104.98 248.98,106.65 C249.77,108.33 250.60,109.99 251.36,111.67 C252.12,113.36 252.81,115.08 253.53,116.78 C254.26,118.49 254.96,120.20 255.73,121.88 C256.51,123.56 257.35,125.20 258.18,126.86 C259.01,128.51 259.84,130.16 260.68,131.81 C261.53,133.45 262.40,135.09 263.26,136.73 C264.12,138.37 264.96,140.02 265.86,141.64 C266.76,143.26 267.71,144.84 268.67,146.43 C269.62,148.02 270.54,149.63 271.58,151.16 C272.62,152.68 273.76,154.13 274.92,155.57 C276.08,157.01 277.29,158.40 278.53,159.78 C279.76,161.15 280.98,162.54 282.32,163.81 C283.65,165.08 285.11,166.24 286.55,167.39 C287.99,168.55 289.46,169.67 290.96,170.75 C292.46,171.82 293.97,172.90 295.55,173.85 C297.13,174.79 298.77,175.65 300.44,176.43 C302.12,177.20 304.74,178.15 305.60,178.50" fill="none" stroke="#c9c9c9" stroke-width="1.0"/>
<path d="M101.19,123.70 C101.33,123.31 101.75,122.16 102.02,121.39 C102.30,120.62 102.54,119.83 102.85,119.07 C103.16,118.32 103.53,117.58 103.89,116.84 C104.25,116.10 104.65,115.36 105.02,114.63 C105.40,113.89 105.78,113.15 106.15,112.42 C106.53,111.68 106.90,110.94 107.27,110.21 C107.65,109.47 108.01,108.73 108.41,108.00 C108.81,107.28 109.24,106.57 109.66,105.86 C110.09,105.16 110.52,104.44 110.96,103.75 C111.41,103.05 111.84,102.35 112.34,101.69 C112.83,101.03 113.32,100.36 113.93,99.82 C114.54,99.28 115.04,98.56 116.00,98.45 C116.95,98.35 118.60,98.62 119.65,99.19 C120.70,99.75 121.58,100.84 122.30,101.85 C123.02,102.87 123.50,104.11 123.96,105.29 C124.42,106.47 124.73,107.72 125.05,108.96 C125.36,110.19 125.61,111.45 125.85,112.70 C126.08,113.96 126.27,115.22 126.47,116.48 C126.67,117.74 126.85,119.01 127.04,120.27 C127.23,121.53 127.40,122.80 127.60,124.06 C127.80,125.32 128.02,126.57 128.24,127.83 C128.45,129.09 128.63,130.36 128.88,131.60 C129.12,132.84 129.39,134.07 129.69,135.28 C129.98,136.49 130.32,137.67 130.65,138.88 C130.98,140.08 131.27,141.34 131.66,142.49 C132.06,143.64 132.35,145.23 133.00,145.79 C133.64,146.35 134.75,146.52 135.54,145.83 C136.32,145.14 137.08,143.13 137.70,141.65 C138.32,140.18 138.76,138.54 139.25,136.97 C139.74,135.39 140.15,133.78 140.64,132.18 C141.12,130.58 141.63,128.98 142.16,127.36 C142.70,125.75 143.29,124.14 143.86,122.50 C144.43,120.86 145.02,119.21 145.57,117.53 C146.12,115.84 146.62,114.11 147.18,112.39 C147.74,110.68 148.28,108.93 148.93,107.23 C149.57,105.54 150.24,103.84 151.06,102.23 C151.88,100.62 152.88,99.11 153.86,97.58 C154.84,96.05 155.93,94.59 156.92,93.07 C157.92,91.55 158.88,90.01 159.83,88.46 C160.79,86.92 161.69,85.33 162.63,83.78 C163.58,82.23 164.49,80.66 165.51,79.16 C166.53,77.66 167.57,76.15 168.76,74.79 C169.95,73.43 171.24,72.12 172.65,71.00 C174.07,69.88 175.63,68.89 177.24,68.06 C178.84,67.23 180.55,66.52 182.29,66.01 C184.02,65.50 185.85,65.26 187.64,64.98 C189.43,64.69 191.24,64.53 193.04,64.30 C194.85,64.08 196.64,63.76 198.45,63.62 C200.26,63.48 202.07,63.39 203.89,63.46 C205.71,63.53 207.59,63.64 209.36,64.03 C211.13,64.41 212.85,65.06 214.53,65.77 C216.20,66.48 217.81,67.39 219.41,68.28 C221.01,69.17 222.57,70.12 224.11,71.10 C225.66,72.09 227.20,73.09 228.67,74.18 C230.14,75.27 231.55,76.43 232.92,77.63 C234.28,78.84 235.70,80.04 236.88,81.42 C238.05,82.81 238.98,84.41 239.97,85.95 C240.97,87.49 241.93,89.06 242.85,90.64 C243.78,92.23 244.64,93.85 245.53,95.46 C246.41,97.07 247.32,98.67 248.16,100.30 C249.00,101.93 249.77,103.60 250.57,105.25 C251.38,106.90 252.23,108.54 252.98,110.21 C253.73,111.89 254.37,113.61 255.06,115.31 C255.76,117.01 256.42,118.73 257.16,120.41 C257.89,122.09 258.70,123.74 259.48,125.40 C260.26,127.06 261.04,128.72 261.85,130.37 C262.66,132.02 263.51,133.65 264.34,135.28 C265.18,136.92 265.99,138.57 266.86,140.19 C267.74,141.80 268.66,143.39 269.59,144.98 C270.51,146.56 271.39,148.18 272.40,149.71 C273.40,151.24 274.51,152.71 275.63,154.16 C276.75,155.61 277.92,157.03 279.11,158.42 C280.31,159.81 281.49,161.21 282.80,162.49 C284.10,163.78 285.52,164.96 286.92,166.14 C288.32,167.32 289.75,168.48 291.21,169.58 C292.67,170.69 294.14,171.80 295.69,172.78 C297.23,173.75 298.84,174.64 300.49,175.43 C302.14,176.22 304.75,177.15 305.60,177.50" fill="none" stroke="#c0c0c0" stroke-width="1.0"/>
<path d="M101.32,124.15 C101.46,123.78 101.88,122.69 102.16,121.95 C102.43,121.22 102.68,120.48 102.99,119.76 C103.30,119.04 103.66,118.34 104.01,117.63 C104.36,116.92 104.75,116.23 105.11,115.53 C105.48,114.82 105.84,114.12 106.21,113.42 C106.58,112.72 106.94,112.01 107.31,111.31 C107.67,110.61 108.03,109.91 108.42,109.22 C108.80,108.53 109.22,107.86 109.63,107.18 C110.05,106.51 110.46,105.83 110.89,105.17 C111.33,104.51 111.75,103.83 112.23,103.21 C112.71,102.59 113.19,101.96 113.78,101.45 C114.37,100.94 114.84,100.24 115.76,100.14 C116.69,100.04 118.30,100.29 119.32,100.84 C120.34,101.40 121.18,102.47 121.87,103.47 C122.56,104.47 123.01,105.68 123.45,106.83 C123.90,107.99 124.21,109.20 124.51,110.41 C124.82,111.61 125.07,112.83 125.30,114.06 C125.54,115.28 125.73,116.50 125.93,117.73 C126.13,118.96 126.30,120.19 126.49,121.42 C126.67,122.65 126.84,123.89 127.04,125.11 C127.24,126.34 127.47,127.56 127.69,128.78 C127.91,130.00 128.09,131.24 128.35,132.44 C128.60,133.65 128.89,134.84 129.20,136.01 C129.52,137.18 129.88,138.31 130.23,139.47 C130.59,140.63 130.90,141.86 131.32,142.96 C131.73,144.06 132.05,145.54 132.73,146.08 C133.41,146.63 134.58,146.88 135.42,146.23 C136.26,145.59 137.11,143.66 137.78,142.22 C138.45,140.79 138.93,139.18 139.46,137.63 C139.99,136.08 140.45,134.50 140.97,132.92 C141.50,131.35 142.04,129.76 142.62,128.17 C143.20,126.58 143.85,125.00 144.47,123.37 C145.09,121.75 145.74,120.12 146.33,118.44 C146.93,116.77 147.47,115.04 148.06,113.32 C148.66,111.61 149.24,109.86 149.91,108.16 C150.57,106.46 151.23,104.75 152.04,103.12 C152.84,101.49 153.79,99.93 154.75,98.38 C155.71,96.83 156.80,95.35 157.79,93.82 C158.78,92.29 159.75,90.74 160.69,89.18 C161.64,87.62 162.54,86.02 163.48,84.46 C164.42,82.90 165.33,81.30 166.35,79.79 C167.36,78.28 168.40,76.76 169.59,75.38 C170.77,74.00 172.04,72.66 173.44,71.51 C174.85,70.36 176.41,69.35 178.02,68.49 C179.62,67.64 181.33,66.92 183.07,66.39 C184.81,65.86 186.65,65.61 188.45,65.31 C190.25,65.02 192.07,64.86 193.87,64.61 C195.68,64.37 197.49,64.02 199.30,63.85 C201.11,63.69 202.91,63.59 204.73,63.62 C206.54,63.66 208.41,63.72 210.18,64.07 C211.94,64.41 213.66,65.02 215.34,65.68 C217.02,66.35 218.65,67.21 220.27,68.03 C221.89,68.86 223.50,69.73 225.07,70.65 C226.65,71.57 228.21,72.52 229.71,73.55 C231.20,74.58 232.64,75.70 234.05,76.85 C235.46,78.00 236.95,79.11 238.17,80.45 C239.38,81.78 240.30,83.37 241.32,84.88 C242.34,86.38 243.33,87.92 244.28,89.48 C245.23,91.03 246.11,92.63 247.02,94.21 C247.93,95.79 248.87,97.35 249.73,98.96 C250.59,100.56 251.36,102.22 252.17,103.85 C252.99,105.48 253.86,107.08 254.60,108.75 C255.33,110.42 255.93,112.15 256.59,113.84 C257.25,115.54 257.89,117.25 258.58,118.94 C259.28,120.62 260.04,122.28 260.77,123.94 C261.51,125.61 262.24,127.28 263.02,128.93 C263.79,130.58 264.61,132.21 265.42,133.84 C266.23,135.48 267.02,137.12 267.87,138.73 C268.71,140.35 269.62,141.93 270.51,143.52 C271.40,145.11 272.24,146.73 273.21,148.27 C274.19,149.81 275.26,151.28 276.34,152.74 C277.42,154.21 278.55,155.65 279.70,157.05 C280.86,158.46 282.01,159.87 283.27,161.18 C284.54,162.48 285.93,163.68 287.29,164.88 C288.66,166.09 290.04,167.28 291.46,168.42 C292.88,169.56 294.31,170.70 295.82,171.70 C297.34,172.71 298.91,173.63 300.54,174.43 C302.17,175.23 304.76,176.15 305.60,176.50" fill="none" stroke="#c9c9c9" stroke-width="1.0"/>
<path d="M101.75,125.59 C101.88,125.28 102.30,124.37 102.58,123.76 C102.86,123.16 103.12,122.54 103.42,121.94 C103.72,121.34 104.06,120.75 104.39,120.16 C104.72,119.57 105.06,118.98 105.39,118.39 C105.73,117.80 106.07,117.21 106.40,116.62 C106.74,116.03 107.07,115.44 107.40,114.85 C107.74,114.26 108.07,113.67 108.43,113.10 C108.79,112.52 109.16,111.96 109.54,111.39 C109.91,110.82 110.29,110.25 110.68,109.70 C111.07,109.14 111.44,108.57 111.88,108.06 C112.31,107.55 112.78,107.07 113.30,106.65 C113.82,106.23 114.19,105.63 115.02,105.54 C115.84,105.46 117.35,105.62 118.26,106.13 C119.17,106.65 119.90,107.69 120.49,108.63 C121.09,109.57 121.46,110.69 121.85,111.75 C122.23,112.82 122.53,113.93 122.81,115.03 C123.10,116.13 123.33,117.25 123.56,118.36 C123.79,119.48 123.99,120.60 124.19,121.72 C124.38,122.84 124.55,123.97 124.73,125.09 C124.91,126.22 125.06,127.35 125.27,128.47 C125.47,129.59 125.71,130.70 125.95,131.81 C126.18,132.92 126.37,134.05 126.66,135.14 C126.94,136.23 127.28,137.29 127.66,138.33 C128.04,139.37 128.47,140.37 128.91,141.37 C129.35,142.38 129.76,143.45 130.29,144.36 C130.81,145.26 131.24,146.38 132.06,146.82 C132.88,147.26 134.22,147.64 135.19,147.00 C136.16,146.37 137.14,144.47 137.89,143.02 C138.63,141.56 139.11,139.86 139.66,138.25 C140.21,136.64 140.65,135.00 141.17,133.36 C141.69,131.73 142.36,129.67 142.77,128.44 C143.18,127.21 143.49,126.38 143.63,125.97" fill="none" stroke="#d2d2d2" stroke-width="0.9"/>
<path d="M102.17,127.02 C102.31,126.78 102.73,126.05 103.01,125.57 C103.29,125.09 103.57,124.60 103.86,124.12 C104.15,123.64 104.46,123.17 104.76,122.69 C105.07,122.21 105.37,121.74 105.68,121.26 C105.98,120.78 106.29,120.30 106.59,119.82 C106.90,119.34 107.19,118.86 107.50,118.38 C107.81,117.91 108.12,117.44 108.44,116.97 C108.77,116.51 109.11,116.05 109.44,115.60 C109.78,115.14 110.11,114.67 110.46,114.23 C110.81,113.78 111.13,113.30 111.52,112.91 C111.92,112.51 112.37,112.17 112.82,111.85 C113.28,111.52 113.54,111.01 114.27,110.94 C115.00,110.87 116.39,110.94 117.20,111.42 C118.01,111.89 118.61,112.91 119.12,113.79 C119.62,114.66 119.91,115.70 120.24,116.67 C120.57,117.65 120.84,118.65 121.11,119.65 C121.37,120.65 121.60,121.66 121.82,122.67 C122.04,123.68 122.25,124.69 122.44,125.71 C122.64,126.72 122.80,127.74 122.97,128.76 C123.15,129.78 123.29,130.81 123.49,131.82 C123.70,132.84 123.96,133.83 124.20,134.84 C124.45,135.84 124.65,136.87 124.97,137.83 C125.29,138.80 125.68,139.74 126.12,140.65 C126.55,141.56 127.07,142.42 127.59,143.27 C128.11,144.12 128.62,145.04 129.25,145.75 C129.89,146.47 130.44,147.22 131.39,147.56 C132.34,147.89 133.86,148.40 134.96,147.77 C136.07,147.15 137.18,145.29 138.00,143.81 C138.81,142.33 139.30,140.54 139.86,138.88 C140.42,137.21 140.86,135.49 141.37,133.80 C141.88,132.10 142.52,129.98 142.92,128.71 C143.32,127.43 143.61,126.59 143.75,126.17" fill="none" stroke="#d2d2d2" stroke-width="0.9"/>
</g>
<path d="M101.40,126.60 C101.80,125.80 102.77,123.63 103.80,121.80 C104.83,119.97 106.33,117.52 107.60,115.60 C108.87,113.68 110.37,111.58 111.40,110.30 C112.43,109.02 113.23,108.37 113.80,107.90 C114.37,107.43 114.40,107.23 114.80,107.50 C115.20,107.77 115.65,108.25 116.20,109.50 C116.75,110.75 117.55,113.25 118.10,115.00 C118.65,116.75 118.93,118.42 119.50,120.00 C120.07,121.58 120.82,123.22 121.50,124.50 C122.18,125.78 122.88,127.03 123.60,127.70 C124.32,128.37 125.07,128.68 125.80,128.50 C126.53,128.32 127.28,127.63 128.00,126.60 C128.72,125.57 129.45,123.40 130.10,122.30 C130.75,121.20 131.38,120.97 131.90,120.00 C132.42,119.03 132.60,118.17 133.20,116.50 C133.80,114.83 134.90,111.58 135.50,110.00 C136.10,108.42 136.13,108.43 136.80,107.00 C137.47,105.57 138.13,104.23 139.50,101.40 C140.87,98.57 143.03,93.57 145.00,90.00 C146.97,86.43 149.63,82.45 151.30,80.00 C152.97,77.55 153.62,76.80 155.00,75.30 C156.38,73.80 158.03,72.20 159.60,71.00 C161.17,69.80 162.80,68.82 164.40,68.10 C166.00,67.38 167.60,67.02 169.20,66.70 C170.80,66.38 172.40,66.33 174.00,66.20 C175.60,66.07 177.20,65.90 178.80,65.90 C180.40,65.90 182.07,65.82 183.60,66.20 C185.13,66.58 186.60,67.57 188.00,68.20 C189.40,68.83 190.80,69.38 192.00,70.00 C193.20,70.62 194.20,71.27 195.20,71.90 C196.20,72.53 197.20,73.15 198.00,73.80 C198.80,74.45 199.25,74.93 200.00,75.80 C200.75,76.67 201.70,77.82 202.50,79.00 C203.30,80.18 204.02,81.60 204.80,82.90 C205.58,84.20 206.40,85.47 207.20,86.80 C208.00,88.13 208.83,89.47 209.60,90.90 C210.37,92.33 211.08,93.85 211.80,95.40 C212.52,96.95 212.98,97.83 213.90,100.20 C214.82,102.57 216.17,106.37 217.30,109.60 C218.43,112.83 218.68,114.53 220.70,119.60 C222.72,124.67 227.18,135.18 229.40,140.00 C231.62,144.82 232.48,146.00 234.00,148.50 C235.52,151.00 237.25,153.17 238.50,155.00 C239.75,156.83 240.50,158.17 241.50,159.50 C242.50,160.83 243.50,161.83 244.50,163.00 C245.50,164.17 246.42,165.37 247.50,166.50 C248.58,167.63 249.75,168.80 251.00,169.80 C252.25,170.80 253.50,171.70 255.00,172.50 C256.50,173.30 258.27,173.92 260.00,174.60 C261.73,175.28 263.60,176.07 265.40,176.60 C267.20,177.13 269.00,177.60 270.80,177.80 C272.60,178.00 274.40,177.98 276.20,177.80 C278.00,177.62 279.80,177.15 281.60,176.70 C283.40,176.25 285.20,175.63 287.00,175.10 C288.80,174.57 290.60,174.03 292.40,173.50 C294.20,172.97 295.93,172.47 297.80,171.90 C299.67,171.33 302.22,170.53 303.60,170.10 C304.98,169.67 305.68,169.43 306.10,169.30" fill="none" stroke="#34a8d6" stroke-width="1.25"/>
<path d="M101.40,126.60 C101.80,125.80 102.68,123.90 103.80,121.80 C104.92,119.70 106.67,116.38 108.10,114.00 C109.53,111.62 111.08,109.40 112.40,107.50 C113.72,105.60 114.80,104.22 116.00,102.60 C117.20,100.98 118.65,98.85 119.60,97.80 C120.55,96.75 121.05,96.57 121.70,96.30 C122.35,96.03 122.90,95.87 123.50,96.20 C124.10,96.53 124.78,97.25 125.30,98.30 C125.82,99.35 126.22,100.80 126.60,102.50 C126.98,104.20 127.23,106.25 127.60,108.50 C127.97,110.75 128.42,113.58 128.80,116.00 C129.18,118.42 129.50,120.67 129.90,123.00 C130.30,125.33 130.72,128.00 131.20,130.00 C131.68,132.00 132.25,133.62 132.80,135.00 C133.35,136.38 133.97,137.73 134.50,138.30 C135.03,138.87 135.48,138.75 136.00,138.40 C136.52,138.05 136.97,137.27 137.60,136.20 C138.23,135.13 139.07,133.50 139.80,132.00 C140.53,130.50 141.20,129.20 142.00,127.20 C142.80,125.20 143.35,122.87 144.60,120.00 C145.85,117.13 147.97,113.33 149.50,110.00 C151.03,106.67 152.08,103.33 153.80,100.00 C155.52,96.67 158.03,92.67 159.80,90.00 C161.57,87.33 163.15,85.67 164.40,84.00 C165.65,82.33 166.50,81.12 167.30,80.00 C168.10,78.88 168.08,78.55 169.20,77.30 C170.32,76.05 172.40,73.87 174.00,72.50 C175.60,71.13 177.20,70.07 178.80,69.10 C180.40,68.13 182.00,67.33 183.60,66.70 C185.20,66.07 186.50,65.65 188.40,65.30 C190.30,64.95 192.93,64.72 195.00,64.60 C197.07,64.48 198.88,64.30 200.80,64.60 C202.72,64.90 204.77,65.72 206.50,66.40 C208.23,67.08 209.85,67.93 211.20,68.70 C212.55,69.47 213.45,70.15 214.60,71.00 C215.75,71.85 216.95,72.83 218.10,73.80 C219.25,74.77 220.48,75.77 221.50,76.80 C222.52,77.83 222.83,77.80 224.20,80.00 C225.57,82.20 228.03,86.67 229.70,90.00 C231.37,93.33 232.78,96.67 234.20,100.00 C235.62,103.33 236.82,106.67 238.20,110.00 C239.58,113.33 240.92,116.67 242.50,120.00 C244.08,123.33 245.87,126.67 247.70,130.00 C249.53,133.33 251.45,136.67 253.50,140.00 C255.55,143.33 257.45,146.67 260.00,150.00 C262.55,153.33 266.30,157.50 268.80,160.00 C271.30,162.50 272.63,163.33 275.00,165.00 C277.37,166.67 280.67,168.80 283.00,170.00 C285.33,171.20 286.97,171.65 289.00,172.20 C291.03,172.75 293.37,173.07 295.20,173.30 C297.03,173.53 298.25,173.55 300.00,173.60 C301.75,173.65 304.75,173.60 305.70,173.60" fill="none" stroke="#bb1a40" stroke-width="1.3"/>
<path d="M101.40,126.60 C101.80,125.80 102.77,123.63 103.80,121.80 C104.83,119.97 106.33,117.52 107.60,115.60 C108.87,113.68 110.77,111.18 111.40,110.30" fill="none" stroke="#34a8d6" stroke-width="1.25"/>
<line x1="82.00" y1="25.50" x2="82.00" y2="203.60" stroke="#383838" stroke-width="1.70" />
<line x1="79.00" y1="28.40" x2="82.00" y2="28.40" stroke="#2a2a2a" stroke-width="1.10" />
<text x="75.80" y="31.30" font-size="8.20" text-anchor="end" font-weight="normal" fill="#151515"  stroke="#151515" stroke-width="0.12">0.8</text>
<line x1="79.00" y1="63.00" x2="82.00" y2="63.00" stroke="#2a2a2a" stroke-width="1.10" />
<text x="75.80" y="65.90" font-size="8.20" text-anchor="end" font-weight="normal" fill="#151515"  stroke="#151515" stroke-width="0.12">0.6</text>
<line x1="79.00" y1="97.60" x2="82.00" y2="97.60" stroke="#2a2a2a" stroke-width="1.10" />
<text x="75.80" y="100.50" font-size="8.20" text-anchor="end" font-weight="normal" fill="#151515"  stroke="#151515" stroke-width="0.12">0.4</text>
<line x1="79.00" y1="132.20" x2="82.00" y2="132.20" stroke="#2a2a2a" stroke-width="1.10" />
<text x="75.80" y="135.10" font-size="8.20" text-anchor="end" font-weight="normal" fill="#151515"  stroke="#151515" stroke-width="0.12">0.2</text>
<line x1="79.00" y1="166.80" x2="82.00" y2="166.80" stroke="#2a2a2a" stroke-width="1.10" />
<text x="75.80" y="169.70" font-size="8.20" text-anchor="end" font-weight="normal" fill="#151515"  stroke="#151515" stroke-width="0.12">0.0</text>
<line x1="79.00" y1="201.40" x2="82.00" y2="201.40" stroke="#2a2a2a" stroke-width="1.10" />
<text x="75.80" y="204.30" font-size="8.20" text-anchor="end" font-weight="normal" fill="#151515"  stroke="#151515" stroke-width="0.12">−0.2</text>
<line x1="156.70" y1="167.00" x2="156.70" y2="170.40" stroke="#2a2a2a" stroke-width="1.00" />
<text x="156.70" y="192.00" font-size="8.20" text-anchor="middle" font-weight="normal" fill="#151515"  stroke="#151515" stroke-width="0.12">200</text>
<line x1="231.40" y1="167.00" x2="231.40" y2="170.40" stroke="#2a2a2a" stroke-width="1.00" />
<text x="231.40" y="192.00" font-size="8.20" text-anchor="middle" font-weight="normal" fill="#151515"  stroke="#151515" stroke-width="0.12">400</text>
<line x1="306.10" y1="167.00" x2="306.10" y2="170.40" stroke="#2a2a2a" stroke-width="1.00" />
<text x="306.10" y="192.00" font-size="8.20" text-anchor="middle" font-weight="normal" fill="#151515"  stroke="#151515" stroke-width="0.12">600</text>
<text x="160.60" y="206.20" font-size="10.00" text-anchor="start" font-weight="normal" fill="#151515" textLength="68.4" lengthAdjust="spacingAndGlyphs" stroke="#151515" stroke-width="0.25">Osmolality (mOsm/kg)</text>
<text transform="translate(52.40,139.70) rotate(-90)" font-size="9.40" fill="#151515" stroke="#151515" stroke-width="0.32" textLength="49.20" lengthAdjust="spacingAndGlyphs">Elongation index</text>
<line x1="88.00" y1="36.20" x2="101.00" y2="36.20" stroke="#b9c9cc" stroke-width="1.50" />
<line x1="88.00" y1="47.10" x2="101.00" y2="47.10" stroke="#34a8d6" stroke-width="1.30" />
<line x1="88.00" y1="58.70" x2="101.00" y2="58.70" stroke="#bb1a40" stroke-width="1.40" />
<text x="104.30" y="38.30" font-size="7.80" text-anchor="start" font-weight="normal" fill="#151515"  stroke="#151515" stroke-width="0.12">Healthy controls</text>
<text x="104.30" y="49.90" font-size="7.70" text-anchor="start" font-weight="normal" fill="#151515"  stroke="#151515" stroke-width="0.12">PIEZO1</text>
<text x="104.30" y="61.40" font-size="7.70" text-anchor="start" font-weight="normal" fill="#151515"  stroke="#151515" stroke-width="0.12">KCNN4</text>
<line x1="194.50" y1="63.50" x2="272.30" y2="63.50" stroke="#1a1a1a" stroke-width="1.00" stroke-dasharray="1.8,1.1"/>
<text x="275.00" y="67.70" font-size="9.00" text-anchor="start" font-weight="normal" fill="#151515"  stroke="#151515" stroke-width="0.12">EI</text>
<text x="282.90" y="69.90" font-size="5.80" text-anchor="start" font-weight="normal" fill="#151515" stroke="#151515" stroke-width="0.25">max</text>
<line x1="135.50" y1="139.00" x2="135.50" y2="166.80" stroke="#222" stroke-width="1.00" stroke-dasharray="1,2"/>
<text x="114.80" y="161.80" font-size="8.90" text-anchor="start" font-weight="normal" fill="#151515"  stroke="#151515" stroke-width="0.12">O</text>
<text x="121.40" y="164.00" font-size="6.00" text-anchor="start" font-weight="normal" fill="#151515" stroke="#151515" stroke-width="0.25">min</text>
<line x1="241.60" y1="120.50" x2="241.60" y2="166.80" stroke="#1a1a1a" stroke-width="1.20" stroke-dasharray="1.2,1.8"/>
<text x="213.60" y="161.90" font-size="8.90" text-anchor="start" font-weight="normal" fill="#151515"  stroke="#151515" stroke-width="0.12">O</text>
<text x="220.20" y="163.50" font-size="5.90" text-anchor="start" font-weight="normal" fill="#151515" stroke="#151515" stroke-width="0.25">hyper</text>
<line x1="376.50" y1="32.40" x2="376.50" y2="167.40" stroke="#2a2a2a" stroke-width="1.30" />
<line x1="376.50" y1="167.00" x2="487.00" y2="167.00" stroke="#2a2a2a" stroke-width="1.40" />
<line x1="373.70" y1="34.46" x2="376.50" y2="34.46" stroke="#2a2a2a" stroke-width="1.10" />
<text x="369.60" y="37.16" font-size="8.10" text-anchor="end" font-weight="normal" fill="#151515"  stroke="#151515" stroke-width="0.12">200</text>
<line x1="373.70" y1="67.52" x2="376.50" y2="67.52" stroke="#2a2a2a" stroke-width="1.10" />
<text x="369.60" y="70.22" font-size="8.10" text-anchor="end" font-weight="normal" fill="#151515"  stroke="#151515" stroke-width="0.12">150</text>
<line x1="373.70" y1="100.58" x2="376.50" y2="100.58" stroke="#2a2a2a" stroke-width="1.10" />
<text x="369.60" y="103.28" font-size="8.10" text-anchor="end" font-weight="normal" fill="#151515"  stroke="#151515" stroke-width="0.12">100</text>
<line x1="373.70" y1="133.64" x2="376.50" y2="133.64" stroke="#2a2a2a" stroke-width="1.10" />
<text x="369.60" y="136.34" font-size="8.10" text-anchor="end" font-weight="normal" fill="#151515"  stroke="#151515" stroke-width="0.12">50</text>
<line x1="373.70" y1="166.70" x2="376.50" y2="166.70" stroke="#2a2a2a" stroke-width="1.10" />
<text x="369.60" y="169.40" font-size="8.10" text-anchor="end" font-weight="normal" fill="#151515"  stroke="#151515" stroke-width="0.12">0</text>
<line x1="401.60" y1="167.00" x2="401.60" y2="169.20" stroke="#2a2a2a" stroke-width="1.00" />
<line x1="431.10" y1="167.00" x2="431.10" y2="169.20" stroke="#2a2a2a" stroke-width="1.00" />
<line x1="461.60" y1="167.00" x2="461.60" y2="169.20" stroke="#2a2a2a" stroke-width="1.00" />
<text transform="translate(402.00,176.80) rotate(-45)" font-size="8.20" text-anchor="end" fill="#151515" stroke="#151515" stroke-width="0.12">HC</text>
<text transform="translate(431.50,176.80) rotate(-45)" font-size="8.20" text-anchor="end" fill="#151515" stroke="#151515" stroke-width="0.12">PIEZO1</text>
<text transform="translate(462.00,176.80) rotate(-45)" font-size="8.20" text-anchor="end" fill="#151515" stroke="#151515" stroke-width="0.12">KCNN4</text>
<text transform="translate(350.40,130.40) rotate(-90)" font-size="9.60" fill="#151515" stroke="#151515" stroke-width="0.32" textLength="6.80" lengthAdjust="spacingAndGlyphs">O</text>
<text transform="translate(351.80,122.60) rotate(-90)" font-size="6.60" fill="#151515" stroke="#151515" stroke-width="0.40" textLength="7.80" lengthAdjust="spacingAndGlyphs">min</text>
<text transform="translate(350.60,110.80) rotate(-90)" font-size="9.30" fill="#151515" stroke="#151515" stroke-width="0.32" textLength="34.40" lengthAdjust="spacingAndGlyphs">(mOsm/kg)</text>
<polyline points="401.30,61.20 401.30,53.50 429.40,53.50 429.40,67.90" fill="none" stroke="#2a2a2a" stroke-width="1.20" />
<polyline points="433.70,67.90 433.70,53.50 461.90,53.50 461.90,60.20" fill="none" stroke="#2a2a2a" stroke-width="1.20" />
<rect x="412.70" y="48.20" width="2.0" height="2.0" fill="#1a1a1a"/>
<rect x="416.30" y="48.20" width="2.0" height="2.0" fill="#1a1a1a"/>
<rect x="446.80" y="48.00" width="2.0" height="2.0" fill="#1a1a1a"/>
<line x1="390.60" y1="74.60" x2="412.60" y2="74.60" stroke="#1a1a1a" stroke-width="1.30" />
<line x1="396.10" y1="72.60" x2="407.10" y2="72.60" stroke="#1a1a1a" stroke-width="1.30" />
<line x1="396.10" y1="76.80" x2="407.10" y2="76.80" stroke="#1a1a1a" stroke-width="1.30" />
<line x1="401.60" y1="72.60" x2="401.60" y2="76.80" stroke="#1a1a1a" stroke-width="1.30" />
<line x1="419.90" y1="90.80" x2="442.90" y2="90.80" stroke="#1a1a1a" stroke-width="1.30" />
<line x1="425.40" y1="83.00" x2="437.40" y2="83.00" stroke="#1a1a1a" stroke-width="1.30" />
<line x1="425.40" y1="100.40" x2="437.40" y2="100.40" stroke="#1a1a1a" stroke-width="1.30" />
<line x1="431.40" y1="83.00" x2="431.40" y2="100.40" stroke="#1a1a1a" stroke-width="1.30" />
<line x1="449.80" y1="72.20" x2="473.80" y2="72.20" stroke="#1a1a1a" stroke-width="1.30" />
<line x1="455.80" y1="66.80" x2="467.80" y2="66.80" stroke="#1a1a1a" stroke-width="1.30" />
<line x1="455.80" y1="76.40" x2="467.80" y2="76.40" stroke="#1a1a1a" stroke-width="1.30" />
<line x1="461.80" y1="66.80" x2="461.80" y2="76.40" stroke="#1a1a1a" stroke-width="1.30" />
<circle cx="398.80" cy="67.80" r="2.05" fill="#bcbcbc"/>
<circle cx="403.30" cy="70.00" r="2.05" fill="#bcbcbc"/>
<circle cx="390.70" cy="74.40" r="2.05" fill="#bcbcbc"/>
<circle cx="395.00" cy="74.20" r="2.05" fill="#bcbcbc"/>
<circle cx="407.20" cy="74.60" r="2.05" fill="#bcbcbc"/>
<circle cx="411.40" cy="74.20" r="2.05" fill="#bcbcbc"/>
<circle cx="394.60" cy="79.20" r="2.05" fill="#bcbcbc"/>
<circle cx="399.00" cy="78.00" r="2.05" fill="#bcbcbc"/>
<circle cx="403.60" cy="78.20" r="2.05" fill="#bcbcbc"/>
<circle cx="407.40" cy="78.40" r="2.05" fill="#bcbcbc"/>
<circle cx="427.60" cy="74.80" r="2.05" fill="#2598cd"/>
<circle cx="434.80" cy="76.00" r="2.05" fill="#2598cd"/>
<circle cx="431.60" cy="80.80" r="2.05" fill="#2598cd"/>
<circle cx="435.20" cy="87.60" r="2.05" fill="#2598cd"/>
<circle cx="441.80" cy="87.40" r="2.05" fill="#2598cd"/>
<circle cx="421.00" cy="90.60" r="2.05" fill="#2598cd"/>
<circle cx="428.20" cy="90.50" r="2.05" fill="#2598cd"/>
<circle cx="435.20" cy="94.40" r="2.05" fill="#2598cd"/>
<circle cx="428.20" cy="95.80" r="2.05" fill="#2598cd"/>
<circle cx="428.20" cy="102.20" r="2.05" fill="#2598cd"/>
<rect x="425.60" y="105.20" width="4.00" height="4.00" fill="#2598cd"/>
<rect x="432.80" y="104.40" width="4.00" height="4.00" fill="#2598cd"/>
<circle cx="461.60" cy="66.80" r="2.20" fill="#bf1a3e"/>
<circle cx="466.40" cy="72.20" r="2.20" fill="#bf1a3e"/>
<circle cx="457.40" cy="76.40" r="2.20" fill="#bf1a3e"/>
<line x1="55.50" y1="243.50" x2="55.50" y2="355.60" stroke="#2a2a2a" stroke-width="1.30" />
<line x1="52.70" y1="355.60" x2="56.10" y2="355.60" stroke="#2a2a2a" stroke-width="1.20" />
<line x1="52.70" y1="365.60" x2="56.10" y2="365.60" stroke="#2a2a2a" stroke-width="1.20" />
<line x1="55.50" y1="365.60" x2="55.50" y2="378.10" stroke="#2a2a2a" stroke-width="1.30" />
<line x1="55.50" y1="377.50" x2="166.30" y2="377.50" stroke="#2a2a2a" stroke-width="1.40" />
<line x1="52.70" y1="245.20" x2="55.50" y2="245.20" stroke="#2a2a2a" stroke-width="1.10" />
<text x="49.40" y="247.90" font-size="8.10" text-anchor="end" font-weight="normal" fill="#151515"  stroke="#151515" stroke-width="0.12">0.70</text>
<line x1="52.70" y1="267.28" x2="55.50" y2="267.28" stroke="#2a2a2a" stroke-width="1.10" />
<text x="49.40" y="269.98" font-size="8.10" text-anchor="end" font-weight="normal" fill="#151515"  stroke="#151515" stroke-width="0.12">0.65</text>
<line x1="52.70" y1="289.36" x2="55.50" y2="289.36" stroke="#2a2a2a" stroke-width="1.10" />
<text x="49.40" y="292.06" font-size="8.10" text-anchor="end" font-weight="normal" fill="#151515"  stroke="#151515" stroke-width="0.12">0.60</text>
<line x1="52.70" y1="311.44" x2="55.50" y2="311.44" stroke="#2a2a2a" stroke-width="1.10" />
<text x="49.40" y="314.14" font-size="8.10" text-anchor="end" font-weight="normal" fill="#151515"  stroke="#151515" stroke-width="0.12">0.55</text>
<line x1="52.70" y1="333.52" x2="55.50" y2="333.52" stroke="#2a2a2a" stroke-width="1.10" />
<text x="49.40" y="336.22" font-size="8.10" text-anchor="end" font-weight="normal" fill="#151515"  stroke="#151515" stroke-width="0.12">0.50</text>
<line x1="52.70" y1="355.60" x2="55.50" y2="355.60" stroke="#2a2a2a" stroke-width="1.10" />
<text x="49.40" y="358.30" font-size="8.10" text-anchor="end" font-weight="normal" fill="#151515"  stroke="#151515" stroke-width="0.12">0.45</text>
<text x="49.40" y="368.30" font-size="8.10" text-anchor="end" font-weight="normal" fill="#151515"  stroke="#151515" stroke-width="0.12">0.45</text>
<text x="49.40" y="380.20" font-size="8.10" text-anchor="end" font-weight="normal" fill="#151515"  stroke="#151515" stroke-width="0.12">0.00</text>
<line x1="52.70" y1="377.50" x2="55.50" y2="377.50" stroke="#2a2a2a" stroke-width="1.10" />
<line x1="81.20" y1="377.50" x2="81.20" y2="379.80" stroke="#2a2a2a" stroke-width="1.00" />
<line x1="110.80" y1="377.50" x2="110.80" y2="379.80" stroke="#2a2a2a" stroke-width="1.00" />
<line x1="141.00" y1="377.50" x2="141.00" y2="379.80" stroke="#2a2a2a" stroke-width="1.00" />
<text transform="translate(81.60,387.80) rotate(-45)" font-size="8.20" text-anchor="end" fill="#151515" stroke="#151515" stroke-width="0.12">HC</text>
<text transform="translate(111.20,387.80) rotate(-45)" font-size="8.20" text-anchor="end" fill="#151515" stroke="#151515" stroke-width="0.12">PIEZO1</text>
<text transform="translate(141.40,387.80) rotate(-45)" font-size="8.20" text-anchor="end" fill="#151515" stroke="#151515" stroke-width="0.12">KCNN4</text>
<text transform="translate(27.30,318.90) rotate(-90)" font-size="9.00" fill="#151515" stroke="#151515" stroke-width="0.32" textLength="5.40" lengthAdjust="spacingAndGlyphs">EI</text>
<text transform="translate(29.60,313.60) rotate(-90)" font-size="6.40" fill="#151515" stroke="#151515" stroke-width="0.20" textLength="9.00" lengthAdjust="spacingAndGlyphs">max</text>
<polyline points="80.00,280.40 80.00,274.20 110.80,274.20 110.80,282.30" fill="none" stroke="#2a2a2a" stroke-width="1.20" />
<rect x="92.60" y="268.80" width="2.0" height="2.0" fill="#1a1a1a"/>
<rect x="96.20" y="268.80" width="2.0" height="2.0" fill="#1a1a1a"/>
<line x1="69.70" y1="289.10" x2="92.70" y2="289.10" stroke="#1a1a1a" stroke-width="1.30" />
<line x1="75.70" y1="287.00" x2="86.70" y2="287.00" stroke="#1a1a1a" stroke-width="1.30" />
<line x1="75.70" y1="292.40" x2="86.70" y2="292.40" stroke="#1a1a1a" stroke-width="1.30" />
<line x1="81.20" y1="287.00" x2="81.20" y2="292.40" stroke="#1a1a1a" stroke-width="1.30" />
<line x1="100.10" y1="297.30" x2="122.10" y2="297.30" stroke="#1a1a1a" stroke-width="1.30" />
<line x1="105.10" y1="293.00" x2="117.10" y2="293.00" stroke="#1a1a1a" stroke-width="1.30" />
<line x1="105.10" y1="303.30" x2="117.10" y2="303.30" stroke="#1a1a1a" stroke-width="1.30" />
<line x1="111.10" y1="293.00" x2="111.10" y2="303.30" stroke="#1a1a1a" stroke-width="1.30" />
<line x1="128.50" y1="293.20" x2="153.50" y2="293.20" stroke="#1a1a1a" stroke-width="1.30" />
<line x1="135.00" y1="291.80" x2="147.00" y2="291.80" stroke="#1a1a1a" stroke-width="1.30" />
<line x1="135.00" y1="304.50" x2="147.00" y2="304.50" stroke="#1a1a1a" stroke-width="1.30" />
<line x1="141.00" y1="291.80" x2="141.00" y2="304.50" stroke="#1a1a1a" stroke-width="1.30" />
<circle cx="69.80" cy="288.70" r="2.05" fill="#bcbcbc"/>
<circle cx="77.00" cy="288.10" r="2.05" fill="#bcbcbc"/>
<circle cx="80.40" cy="287.00" r="2.05" fill="#bcbcbc"/>
<circle cx="83.60" cy="286.30" r="2.05" fill="#bcbcbc"/>
<circle cx="86.40" cy="287.00" r="2.05" fill="#bcbcbc"/>
<circle cx="89.40" cy="288.90" r="2.05" fill="#bcbcbc"/>
<circle cx="73.20" cy="293.00" r="2.05" fill="#bcbcbc"/>
<circle cx="81.90" cy="292.70" r="2.05" fill="#bcbcbc"/>
<circle cx="87.70" cy="294.70" r="2.05" fill="#bcbcbc"/>
<circle cx="100.50" cy="290.10" r="2.05" fill="#2598cd"/>
<circle cx="107.10" cy="291.80" r="2.05" fill="#2598cd"/>
<circle cx="114.00" cy="289.50" r="2.05" fill="#2598cd"/>
<circle cx="100.50" cy="296.40" r="2.05" fill="#2598cd"/>
<circle cx="107.10" cy="297.00" r="2.05" fill="#2598cd"/>
<circle cx="114.60" cy="296.10" r="2.05" fill="#2598cd"/>
<circle cx="121.50" cy="297.90" r="2.05" fill="#2598cd"/>
<circle cx="100.50" cy="301.00" r="2.05" fill="#2598cd"/>
<circle cx="107.10" cy="303.90" r="2.05" fill="#2598cd"/>
<circle cx="114.00" cy="301.60" r="2.05" fill="#2598cd"/>
<rect x="112.00" y="305.10" width="4.00" height="4.00" fill="#2598cd"/>
<rect x="105.10" y="309.40" width="4.00" height="4.00" fill="#2598cd"/>
<circle cx="136.50" cy="291.80" r="2.20" fill="#bf1a3e"/>
<circle cx="145.20" cy="293.00" r="2.20" fill="#bf1a3e"/>
<circle cx="141.10" cy="304.50" r="2.20" fill="#bf1a3e"/>
<line x1="229.50" y1="243.50" x2="229.50" y2="356.00" stroke="#2a2a2a" stroke-width="1.30" />
<line x1="226.70" y1="356.00" x2="230.10" y2="356.00" stroke="#2a2a2a" stroke-width="1.20" />
<line x1="226.70" y1="365.80" x2="230.10" y2="365.80" stroke="#2a2a2a" stroke-width="1.20" />
<line x1="229.50" y1="365.80" x2="229.50" y2="378.10" stroke="#2a2a2a" stroke-width="1.30" />
<line x1="229.50" y1="377.50" x2="339.80" y2="377.50" stroke="#2a2a2a" stroke-width="1.40" />
<line x1="226.70" y1="245.00" x2="229.50" y2="245.00" stroke="#2a2a2a" stroke-width="1.10" />
<text x="223.20" y="247.70" font-size="8.10" text-anchor="end" font-weight="normal" fill="#151515"  stroke="#151515" stroke-width="0.12">500</text>
<line x1="226.70" y1="272.75" x2="229.50" y2="272.75" stroke="#2a2a2a" stroke-width="1.10" />
<text x="223.20" y="275.45" font-size="8.10" text-anchor="end" font-weight="normal" fill="#151515"  stroke="#151515" stroke-width="0.12">450</text>
<line x1="226.70" y1="300.50" x2="229.50" y2="300.50" stroke="#2a2a2a" stroke-width="1.10" />
<text x="223.20" y="303.20" font-size="8.10" text-anchor="end" font-weight="normal" fill="#151515"  stroke="#151515" stroke-width="0.12">400</text>
<line x1="226.70" y1="328.25" x2="229.50" y2="328.25" stroke="#2a2a2a" stroke-width="1.10" />
<text x="223.20" y="330.95" font-size="8.10" text-anchor="end" font-weight="normal" fill="#151515"  stroke="#151515" stroke-width="0.12">350</text>
<line x1="226.70" y1="356.00" x2="229.50" y2="356.00" stroke="#2a2a2a" stroke-width="1.10" />
<text x="223.20" y="358.70" font-size="8.10" text-anchor="end" font-weight="normal" fill="#151515"  stroke="#151515" stroke-width="0.12">300</text>
<text x="223.20" y="368.50" font-size="8.10" text-anchor="end" font-weight="normal" fill="#151515"  stroke="#151515" stroke-width="0.12">300</text>
<text x="223.20" y="380.20" font-size="8.10" text-anchor="end" font-weight="normal" fill="#151515"  stroke="#151515" stroke-width="0.12">0</text>
<line x1="226.70" y1="377.50" x2="229.50" y2="377.50" stroke="#2a2a2a" stroke-width="1.10" />
<line x1="255.20" y1="377.50" x2="255.20" y2="379.80" stroke="#2a2a2a" stroke-width="1.00" />
<line x1="284.90" y1="377.50" x2="284.90" y2="379.80" stroke="#2a2a2a" stroke-width="1.00" />
<line x1="314.50" y1="377.50" x2="314.50" y2="379.80" stroke="#2a2a2a" stroke-width="1.00" />
<text transform="translate(255.60,387.80) rotate(-45)" font-size="8.20" text-anchor="end" fill="#151515" stroke="#151515" stroke-width="0.12">HC</text>
<text transform="translate(285.30,387.80) rotate(-45)" font-size="8.20" text-anchor="end" fill="#151515" stroke="#151515" stroke-width="0.12">PIEZO1</text>
<text transform="translate(314.90,387.80) rotate(-45)" font-size="8.20" text-anchor="end" fill="#151515" stroke="#151515" stroke-width="0.12">KCNN4</text>
<text transform="translate(202.70,339.30) rotate(-90)" font-size="9.60" fill="#151515" stroke="#151515" stroke-width="0.32" textLength="6.90" lengthAdjust="spacingAndGlyphs">O</text>
<text transform="translate(204.00,332.20) rotate(-90)" font-size="6.60" fill="#151515" stroke="#151515" stroke-width="0.40" textLength="11.60" lengthAdjust="spacingAndGlyphs">hyper</text>
<text transform="translate(203.00,318.80) rotate(-90)" font-size="9.30" fill="#151515" stroke="#151515" stroke-width="0.32" textLength="32.60" lengthAdjust="spacingAndGlyphs">(mOsm/kg)</text>
<polyline points="254.40,259.20 254.40,252.40 284.80,252.40 284.80,279.60" fill="none" stroke="#2a2a2a" stroke-width="1.20" />
<rect x="263.30" y="247.20" width="2.0" height="2.0" fill="#1a1a1a"/>
<rect x="266.90" y="247.20" width="2.0" height="2.0" fill="#1a1a1a"/>
<rect x="270.50" y="247.20" width="2.0" height="2.0" fill="#1a1a1a"/>
<rect x="274.10" y="247.20" width="2.0" height="2.0" fill="#1a1a1a"/>
<line x1="242.60" y1="274.80" x2="266.60" y2="274.80" stroke="#1a1a1a" stroke-width="1.30" />
<line x1="248.60" y1="269.20" x2="260.60" y2="269.20" stroke="#1a1a1a" stroke-width="1.30" />
<line x1="248.60" y1="279.00" x2="260.60" y2="279.00" stroke="#1a1a1a" stroke-width="1.30" />
<line x1="254.60" y1="269.20" x2="254.60" y2="279.00" stroke="#1a1a1a" stroke-width="1.30" />
<line x1="274.00" y1="315.40" x2="296.00" y2="315.40" stroke="#1a1a1a" stroke-width="1.30" />
<line x1="279.00" y1="307.30" x2="291.00" y2="307.30" stroke="#1a1a1a" stroke-width="1.30" />
<line x1="279.00" y1="318.60" x2="291.00" y2="318.60" stroke="#1a1a1a" stroke-width="1.30" />
<line x1="285.00" y1="307.30" x2="285.00" y2="318.60" stroke="#1a1a1a" stroke-width="1.30" />
<line x1="302.80" y1="286.70" x2="326.80" y2="286.70" stroke="#1a1a1a" stroke-width="1.30" />
<line x1="308.80" y1="283.50" x2="320.80" y2="283.50" stroke="#1a1a1a" stroke-width="1.30" />
<line x1="314.80" y1="283.50" x2="314.80" y2="286.70" stroke="#1a1a1a" stroke-width="1.30" />
<circle cx="244.20" cy="267.80" r="2.05" fill="#bcbcbc"/>
<circle cx="254.40" cy="265.40" r="2.05" fill="#bcbcbc"/>
<circle cx="264.60" cy="270.00" r="2.05" fill="#bcbcbc"/>
<circle cx="244.20" cy="274.80" r="2.05" fill="#bcbcbc"/>
<circle cx="254.40" cy="272.20" r="2.05" fill="#bcbcbc"/>
<circle cx="264.60" cy="275.40" r="2.05" fill="#bcbcbc"/>
<circle cx="254.40" cy="277.80" r="2.05" fill="#bcbcbc"/>
<circle cx="264.60" cy="280.80" r="2.05" fill="#bcbcbc"/>
<circle cx="244.20" cy="283.80" r="2.05" fill="#bcbcbc"/>
<circle cx="284.60" cy="286.30" r="2.05" fill="#2598cd"/>
<circle cx="284.60" cy="296.40" r="2.05" fill="#2598cd"/>
<circle cx="284.60" cy="306.20" r="2.05" fill="#2598cd"/>
<circle cx="279.70" cy="312.20" r="2.05" fill="#2598cd"/>
<circle cx="285.00" cy="311.60" r="2.05" fill="#2598cd"/>
<circle cx="274.30" cy="315.20" r="2.05" fill="#2598cd"/>
<circle cx="294.80" cy="315.20" r="2.05" fill="#2598cd"/>
<circle cx="279.70" cy="318.70" r="2.05" fill="#2598cd"/>
<circle cx="285.00" cy="318.70" r="2.05" fill="#2598cd"/>
<circle cx="289.60" cy="318.70" r="2.05" fill="#2598cd"/>
<rect x="282.60" y="328.30" width="4.00" height="4.00" fill="#2598cd"/>
<rect x="282.60" y="334.00" width="4.00" height="4.00" fill="#2598cd"/>
<circle cx="304.50" cy="286.70" r="2.20" fill="#bf1a3e"/>
<circle cx="315.30" cy="283.50" r="2.20" fill="#bf1a3e"/>
<circle cx="325.00" cy="286.70" r="2.20" fill="#bf1a3e"/>
<line x1="402.50" y1="243.00" x2="402.50" y2="355.50" stroke="#2a2a2a" stroke-width="1.30" />
<line x1="399.70" y1="355.50" x2="403.10" y2="355.50" stroke="#2a2a2a" stroke-width="1.20" />
<line x1="399.70" y1="365.80" x2="403.10" y2="365.80" stroke="#2a2a2a" stroke-width="1.20" />
<line x1="402.50" y1="365.80" x2="402.50" y2="378.10" stroke="#2a2a2a" stroke-width="1.30" />
<line x1="402.50" y1="377.50" x2="513.20" y2="377.50" stroke="#2a2a2a" stroke-width="1.40" />
<line x1="399.70" y1="244.50" x2="402.50" y2="244.50" stroke="#2a2a2a" stroke-width="1.10" />
<text x="395.80" y="247.20" font-size="8.10" text-anchor="end" font-weight="normal" fill="#151515"  stroke="#151515" stroke-width="0.12">200</text>
<line x1="399.70" y1="266.70" x2="402.50" y2="266.70" stroke="#2a2a2a" stroke-width="1.10" />
<text x="395.80" y="269.40" font-size="8.10" text-anchor="end" font-weight="normal" fill="#151515"  stroke="#151515" stroke-width="0.12">180</text>
<line x1="399.70" y1="288.90" x2="402.50" y2="288.90" stroke="#2a2a2a" stroke-width="1.10" />
<text x="395.80" y="291.60" font-size="8.10" text-anchor="end" font-weight="normal" fill="#151515"  stroke="#151515" stroke-width="0.12">160</text>
<line x1="399.70" y1="311.10" x2="402.50" y2="311.10" stroke="#2a2a2a" stroke-width="1.10" />
<text x="395.80" y="313.80" font-size="8.10" text-anchor="end" font-weight="normal" fill="#151515"  stroke="#151515" stroke-width="0.12">140</text>
<line x1="399.70" y1="333.30" x2="402.50" y2="333.30" stroke="#2a2a2a" stroke-width="1.10" />
<text x="395.80" y="336.00" font-size="8.10" text-anchor="end" font-weight="normal" fill="#151515"  stroke="#151515" stroke-width="0.12">120</text>
<line x1="399.70" y1="355.50" x2="402.50" y2="355.50" stroke="#2a2a2a" stroke-width="1.10" />
<text x="395.80" y="358.20" font-size="8.10" text-anchor="end" font-weight="normal" fill="#151515"  stroke="#151515" stroke-width="0.12">100</text>
<text x="395.80" y="368.50" font-size="8.10" text-anchor="end" font-weight="normal" fill="#151515"  stroke="#151515" stroke-width="0.12">100</text>
<text x="395.80" y="380.20" font-size="8.10" text-anchor="end" font-weight="normal" fill="#151515"  stroke="#151515" stroke-width="0.12">0</text>
<line x1="399.70" y1="377.50" x2="402.50" y2="377.50" stroke="#2a2a2a" stroke-width="1.10" />
<line x1="427.70" y1="377.50" x2="427.70" y2="379.60" stroke="#2a2a2a" stroke-width="1.00" />
<line x1="457.30" y1="377.50" x2="457.30" y2="379.60" stroke="#2a2a2a" stroke-width="1.00" />
<line x1="487.30" y1="377.50" x2="487.30" y2="379.60" stroke="#2a2a2a" stroke-width="1.00" />
<text transform="translate(428.10,387.60) rotate(-45)" font-size="8.20" text-anchor="end" fill="#151515" stroke="#151515" stroke-width="0.12">HC</text>
<text transform="translate(457.70,387.60) rotate(-45)" font-size="8.20" text-anchor="end" fill="#151515" stroke="#151515" stroke-width="0.12">PIEZO1</text>
<text transform="translate(487.70,387.60) rotate(-45)" font-size="8.20" text-anchor="end" fill="#151515" stroke="#151515" stroke-width="0.12">KCNN4</text>
<text transform="translate(375.60,318.20) rotate(-90)" font-size="9.80" fill="#151515" stroke="#151515" stroke-width="0.32" textLength="13.40" lengthAdjust="spacingAndGlyphs">AUC</text>
<polyline points="427.40,274.20 427.40,267.70 457.70,267.70 457.70,296.40" fill="none" stroke="#2a2a2a" stroke-width="1.20" />
<rect x="436.10" y="262.40" width="2.0" height="2.0" fill="#1a1a1a"/>
<rect x="439.70" y="262.40" width="2.0" height="2.0" fill="#1a1a1a"/>
<rect x="443.30" y="262.40" width="2.0" height="2.0" fill="#1a1a1a"/>
<rect x="446.90" y="262.40" width="2.0" height="2.0" fill="#1a1a1a"/>
<line x1="415.50" y1="290.60" x2="439.50" y2="290.60" stroke="#1a1a1a" stroke-width="1.30" />
<line x1="421.50" y1="282.40" x2="433.50" y2="282.40" stroke="#1a1a1a" stroke-width="1.30" />
<line x1="421.50" y1="299.70" x2="433.50" y2="299.70" stroke="#1a1a1a" stroke-width="1.30" />
<line x1="427.50" y1="282.40" x2="427.50" y2="299.70" stroke="#1a1a1a" stroke-width="1.30" />
<line x1="446.40" y1="320.20" x2="469.40" y2="320.20" stroke="#1a1a1a" stroke-width="1.30" />
<line x1="452.40" y1="314.10" x2="463.40" y2="314.10" stroke="#1a1a1a" stroke-width="1.30" />
<line x1="452.40" y1="325.60" x2="463.40" y2="325.60" stroke="#1a1a1a" stroke-width="1.30" />
<line x1="457.90" y1="314.10" x2="457.90" y2="325.60" stroke="#1a1a1a" stroke-width="1.30" />
<line x1="475.10" y1="307.20" x2="500.10" y2="307.20" stroke="#1a1a1a" stroke-width="1.30" />
<line x1="481.60" y1="300.10" x2="493.60" y2="300.10" stroke="#1a1a1a" stroke-width="1.30" />
<line x1="481.60" y1="314.60" x2="493.60" y2="314.60" stroke="#1a1a1a" stroke-width="1.30" />
<line x1="487.60" y1="300.10" x2="487.60" y2="314.60" stroke="#1a1a1a" stroke-width="1.30" />
<circle cx="417.30" cy="282.00" r="2.05" fill="#bcbcbc"/>
<circle cx="427.40" cy="280.20" r="2.05" fill="#bcbcbc"/>
<circle cx="437.80" cy="282.80" r="2.05" fill="#bcbcbc"/>
<circle cx="417.30" cy="289.30" r="2.05" fill="#bcbcbc"/>
<circle cx="427.40" cy="288.40" r="2.05" fill="#bcbcbc"/>
<circle cx="437.80" cy="290.60" r="2.05" fill="#bcbcbc"/>
<circle cx="427.40" cy="294.30" r="2.05" fill="#bcbcbc"/>
<circle cx="417.30" cy="301.80" r="2.05" fill="#bcbcbc"/>
<circle cx="437.80" cy="300.80" r="2.05" fill="#bcbcbc"/>
<circle cx="427.40" cy="298.60" r="2.05" fill="#bcbcbc"/>
<circle cx="457.20" cy="303.60" r="2.05" fill="#2598cd"/>
<circle cx="461.60" cy="308.30" r="2.05" fill="#2598cd"/>
<circle cx="454.00" cy="312.60" r="2.05" fill="#2598cd"/>
<circle cx="446.40" cy="320.20" r="2.05" fill="#2598cd"/>
<circle cx="454.00" cy="320.20" r="2.05" fill="#2598cd"/>
<circle cx="461.60" cy="319.10" r="2.05" fill="#2598cd"/>
<circle cx="467.00" cy="319.50" r="2.05" fill="#2598cd"/>
<circle cx="454.00" cy="326.70" r="2.05" fill="#2598cd"/>
<circle cx="461.60" cy="324.50" r="2.05" fill="#2598cd"/>
<circle cx="468.00" cy="325.60" r="2.05" fill="#2598cd"/>
<circle cx="460.50" cy="329.90" r="2.05" fill="#2598cd"/>
<rect x="455.20" y="334.00" width="4.00" height="4.00" fill="#2598cd"/>
<circle cx="487.80" cy="300.00" r="2.20" fill="#bf1a3e"/>
<circle cx="487.80" cy="307.10" r="2.20" fill="#bf1a3e"/>
<circle cx="487.80" cy="314.70" r="2.20" fill="#bf1a3e"/>
<rect x="0.5" y="0.5" width="519" height="416" fill="none" stroke="#3c3c3c" stroke-width="1.2"/>
</svg>
</body></html>
